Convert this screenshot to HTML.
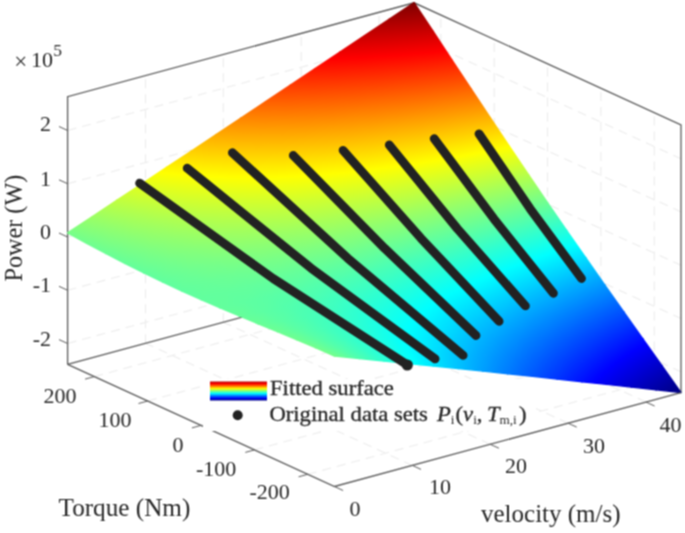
<!DOCTYPE html>
<html><head><meta charset="utf-8"><style>
html,body{margin:0;padding:0;background:#fff;overflow:hidden}
svg{display:block}

.t{font-family:"Liberation Serif",serif;fill:#262626}
</style></head><body><domain style="display:none">Chart</domain><div>
<svg width="685" height="533" viewBox="0 0 685 533">
<defs><filter id="bl" color-interpolation-filters="sRGB" x="0" y="0" width="685" height="533" filterUnits="userSpaceOnUse"><feConvolveMatrix order="3" kernelMatrix="1 2 1 2 4 2 1 2 1" divisor="16" edgeMode="duplicate"/></filter><linearGradient id="j" gradientUnits="userSpaceOnUse" x1="0" y1="0" x2="1" y2="0"><stop offset="0" stop-color="#000080"/><stop offset=".125" stop-color="#0000ff"/><stop offset=".375" stop-color="#00ffff"/><stop offset=".625" stop-color="#ffff00"/><stop offset=".875" stop-color="#ff0000"/><stop offset="1" stop-color="#800000"/></linearGradient>
<linearGradient id="g1" href="#j" x1="409.13" y1="228.40" x2="256.01" y2="490.24"/>
<linearGradient id="g2" href="#j" x1="391.28" y1="223.40" x2="274.79" y2="495.50"/>
<linearGradient id="g3" href="#j" x1="403.21" y1="188.55" x2="222.78" y2="515.41"/>
<linearGradient id="g4" href="#j" x1="377.89" y1="181.75" x2="249.50" y2="522.59"/>
<linearGradient id="g5" href="#j" x1="408.01" y1="131.93" x2="177.41" y2="560.61"/>
<linearGradient id="g6" href="#j" x1="368.73" y1="121.08" x2="219.27" y2="572.17"/>
<linearGradient id="g7" href="#j" x1="435.08" y1="44.02" x2="107.07" y2="641.87"/>
<linearGradient id="g8" href="#j" x1="365.75" y1="23.19" x2="181.87" y2="664.34"/>
<linearGradient id="g9" href="#j" x1="522.98" y1="-111.38" x2="-31.32" y2="799.70"/>
<linearGradient id="g10" href="#j" x1="371.89" y1="-164.14" x2="133.94" y2="857.41"/>
<linearGradient id="g11" href="#j" x1="876.02" y1="-434.24" x2="-466.32" y2="1146.90"/>
<linearGradient id="g12" href="#j" x1="368.80" y1="-672.24" x2="95.58" y2="1410.55"/>
<linearGradient id="g13" href="#j" x1="2960.62" y1="503.36" x2="-2847.74" y2="89.03"/>
<linearGradient id="g14" href="#j" x1="-2897.72" y1="-3599.17" x2="3710.37" y2="4681.61"/>
<linearGradient id="g15" href="#j" x1="428.15" y1="1641.45" x2="-54.95" y2="-1212.98"/>
<linearGradient id="g16" href="#j" x1="-551.75" y1="1614.62" x2="1049.65" y2="-1182.74"/>
<linearGradient id="g17" href="#j" x1="139.25" y1="1043.13" x2="230.29" y2="-558.88"/>
<linearGradient id="g18" href="#j" x1="-110.85" y1="1005.68" x2="512.93" y2="-516.55"/>
<linearGradient id="g19" href="#j" x1="92.73" y1="817.98" x2="242.06" y2="-321.89"/>
<linearGradient id="g20" href="#j" x1="-22.03" y1="794.29" x2="371.44" y2="-295.18"/>
<linearGradient id="g21" href="#j" x1="71.46" y1="703.21" x2="224.86" y2="-208.44"/>
<linearGradient id="g22" href="#j" x1="3.78" y1="686.65" x2="300.58" y2="-189.91"/>
<linearGradient id="g23" href="#j" x1="53.73" y1="633.04" x2="203.29" y2="-144.95"/>
<linearGradient id="g24" href="#j" x1="7.90" y1="620.34" x2="253.91" y2="-130.92"/>
<linearGradient id="g25" href="#j" x1="35.83" y1="584.93" x2="181.59" y2="-106.26"/>
<linearGradient id="g26" href="#j" x1="1.95" y1="574.50" x2="218.36" y2="-94.93"/>
<linearGradient id="g27" href="#j" x1="16.96" y1="549.26" x2="160.69" y2="-81.61"/>
<linearGradient id="g28" href="#j" x1="-9.64" y1="540.20" x2="188.93" y2="-72.00"/>
<linearGradient id="g29" href="#j" x1="474.90" y1="217.65" x2="219.72" y2="528.38"/>
<linearGradient id="g30" href="#j" x1="454.57" y1="202.16" x2="244.24" y2="547.07"/>
<linearGradient id="g31" href="#j" x1="486.11" y1="170.99" x2="166.89" y2="559.76"/>
<linearGradient id="g32" href="#j" x1="455.94" y1="146.97" x2="202.71" y2="588.29"/>
<linearGradient id="g33" href="#j" x1="524.44" y1="107.21" x2="82.18" y2="612.04"/>
<linearGradient id="g34" href="#j" x1="476.23" y1="62.91" x2="138.83" y2="664.09"/>
<linearGradient id="g35" href="#j" x1="627.33" y1="20.04" x2="-77.34" y2="691.69"/>
<linearGradient id="g36" href="#j" x1="544.50" y1="-83.77" x2="19.26" y2="812.78"/>
<linearGradient id="g37" href="#j" x1="913.79" y1="-50.80" x2="-447.88" y2="751.56"/>
<linearGradient id="g38" href="#j" x1="802.13" y1="-400.66" x2="-318.50" y2="1156.93"/>
<linearGradient id="g39" href="#j" x1="1474.51" y1="410.58" x2="-1128.04" y2="197.94"/>
<linearGradient id="g40" href="#j" x1="2906.57" y1="-592.77" x2="-2774.67" y2="1351.62"/>
<linearGradient id="g41" href="#j" x1="887.70" y1="1197.58" x2="-486.92" y2="-716.89"/>
<linearGradient id="g42" href="#j" x1="486.73" y1="1978.35" x2="-30.46" y2="-1605.68"/>
<linearGradient id="g43" href="#j" x1="385.81" y1="1017.69" x2="46.11" y2="-521.56"/>
<linearGradient id="g44" href="#j" x1="142.03" y1="1126.30" x2="319.87" y2="-643.53"/>
<linearGradient id="g45" href="#j" x1="235.27" y1="835.37" x2="175.27" y2="-326.83"/>
<linearGradient id="g46" href="#j" x1="111.04" y1="855.92" x2="312.29" y2="-349.49"/>
<linearGradient id="g47" href="#j" x1="173.18" y1="724.30" x2="203.30" y2="-214.61"/>
<linearGradient id="g48" href="#j" x1="98.38" y1="726.60" x2="283.94" y2="-217.08"/>
<linearGradient id="g49" href="#j" x1="136.39" y1="652.79" x2="202.38" y2="-147.91"/>
<linearGradient id="g50" href="#j" x1="85.53" y1="650.04" x2="255.70" y2="-145.03"/>
<linearGradient id="g51" href="#j" x1="108.29" y1="603.02" x2="191.39" y2="-106.14"/>
<linearGradient id="g52" href="#j" x1="70.67" y1="598.64" x2="229.55" y2="-101.70"/>
<linearGradient id="g53" href="#j" x1="83.45" y1="566.04" x2="176.43" y2="-79.07"/>
<linearGradient id="g54" href="#j" x1="53.89" y1="561.08" x2="205.31" y2="-74.22"/>
<linearGradient id="g55" href="#j" x1="59.73" y1="537.09" x2="159.86" y2="-61.27"/>
<linearGradient id="g56" href="#j" x1="35.45" y1="531.90" x2="182.62" y2="-56.40"/>
<linearGradient id="g57" href="#j" x1="551.31" y1="225.63" x2="151.90" y2="548.68"/>
<linearGradient id="g58" href="#j" x1="536.21" y1="195.10" x2="172.85" y2="591.02"/>
<linearGradient id="g59" href="#j" x1="588.20" y1="184.38" x2="66.19" y2="571.32"/>
<linearGradient id="g60" href="#j" x1="568.76" y1="133.38" x2="92.21" y2="639.57"/>
<linearGradient id="g61" href="#j" x1="672.45" y1="146.43" x2="-77.88" y2="589.18"/>
<linearGradient id="g62" href="#j" x1="657.24" y1="48.58" x2="-58.14" y2="716.15"/>
<linearGradient id="g63" href="#j" x1="844.14" y1="161.55" x2="-325.96" y2="539.31"/>
<linearGradient id="g64" href="#j" x1="903.75" y1="-39.90" x2="-401.18" y2="793.51"/>
<linearGradient id="g65" href="#j" x1="1056.30" y1="403.52" x2="-611.43" y2="213.10"/>
<linearGradient id="g66" href="#j" x1="1501.51" y1="268.30" x2="-1158.12" y2="379.14"/>
<linearGradient id="g67" href="#j" x1="909.63" y1="816.40" x2="-452.59" y2="-300.10"/>
<linearGradient id="g68" href="#j" x1="1060.73" y1="1253.38" x2="-632.98" y2="-821.75"/>
<linearGradient id="g69" href="#j" x1="566.95" y1="891.93" x2="-74.62" y2="-392.42"/>
<linearGradient id="g70" href="#j" x1="439.35" y1="1083.25" x2="73.11" y2="-613.92"/>
<linearGradient id="g71" href="#j" x1="374.69" y1="807.17" x2="111.65" y2="-297.74"/>
<linearGradient id="g72" href="#j" x1="270.00" y1="871.22" x2="228.79" y2="-369.40"/>
<linearGradient id="g73" href="#j" x1="279.21" y1="723.10" x2="180.11" y2="-208.65"/>
<linearGradient id="g74" href="#j" x1="207.09" y1="746.61" x2="257.75" y2="-233.96"/>
<linearGradient id="g75" href="#j" x1="223.48" y1="659.76" x2="201.02" y2="-146.48"/>
<linearGradient id="g76" href="#j" x1="171.83" y1="668.65" x2="254.27" y2="-155.64"/>
<linearGradient id="g77" href="#j" x1="184.45" y1="612.67" x2="202.10" y2="-104.62"/>
<linearGradient id="g78" href="#j" x1="145.32" y1="615.44" x2="240.54" y2="-107.34"/>
<linearGradient id="g79" href="#j" x1="152.98" y1="576.61" x2="194.15" y2="-76.35"/>
<linearGradient id="g80" href="#j" x1="121.84" y1="576.48" x2="223.16" y2="-76.23"/>
<linearGradient id="g81" href="#j" x1="125.07" y1="548.03" x2="181.75" y2="-57.19"/>
<linearGradient id="g82" href="#j" x1="99.27" y1="546.35" x2="204.43" y2="-55.71"/>
<linearGradient id="g83" href="#j" x1="98.80" y1="524.61" x2="167.06" y2="-44.33"/>
<linearGradient id="g84" href="#j" x1="76.73" y1="521.99" x2="185.31" y2="-42.17"/>
<linearGradient id="g85" href="#j" x1="625.06" y1="263.12" x2="62.49" y2="524.07"/>
<linearGradient id="g86" href="#j" x1="628.95" y1="221.70" x2="56.26" y2="590.37"/>
<linearGradient id="g87" href="#j" x1="681.26" y1="248.95" x2="-50.99" y2="505.41"/>
<linearGradient id="g88" href="#j" x1="701.75" y1="184.14" x2="-81.95" y2="603.34"/>
<linearGradient id="g89" href="#j" x1="774.37" y1="277.18" x2="-208.70" y2="427.70"/>
<linearGradient id="g90" href="#j" x1="851.63" y1="187.64" x2="-319.56" y2="556.18"/>
<linearGradient id="g91" href="#j" x1="868.25" y1="407.19" x2="-354.40" y2="217.65"/>
<linearGradient id="g92" href="#j" x1="1062.56" y1="379.47" x2="-619.89" y2="255.52"/>
<linearGradient id="g93" href="#j" x1="831.49" y1="623.03" x2="-317.25" y2="-85.59"/>
<linearGradient id="g94" href="#j" x1="981.43" y1="793.50" x2="-512.48" y2="-307.55"/>
<linearGradient id="g95" href="#j" x1="652.63" y1="745.70" x2="-107.10" y2="-245.26"/>
<linearGradient id="g96" href="#j" x1="632.06" y1="911.60" x2="-81.59" y2="-450.94"/>
<linearGradient id="g97" href="#j" x1="486.67" y1="743.49" x2="67.90" y2="-241.59"/>
<linearGradient id="g98" href="#j" x1="421.48" y1="829.14" x2="144.67" y2="-342.45"/>
<linearGradient id="g99" href="#j" x1="379.04" y1="699.07" x2="159.66" y2="-189.81"/>
<linearGradient id="g100" href="#j" x1="319.74" y1="739.87" x2="225.76" y2="-235.29"/>
<linearGradient id="g101" href="#j" x1="310.08" y1="652.48" x2="199.65" y2="-139.96"/>
<linearGradient id="g102" href="#j" x1="262.60" y1="672.54" x2="249.55" y2="-161.04"/>
<linearGradient id="g103" href="#j" x1="261.65" y1="612.79" x2="213.04" y2="-101.54"/>
<linearGradient id="g104" href="#j" x1="223.69" y1="622.91" x2="250.47" y2="-111.53"/>
<linearGradient id="g105" href="#j" x1="223.88" y1="580.29" x2="212.79" y2="-73.66"/>
<linearGradient id="g106" href="#j" x1="192.77" y1="585.26" x2="241.43" y2="-78.24"/>
<linearGradient id="g107" href="#j" x1="191.79" y1="553.57" x2="205.25" y2="-53.85"/>
<linearGradient id="g108" href="#j" x1="165.55" y1="555.66" x2="227.68" y2="-55.63"/>
<linearGradient id="g109" href="#j" x1="162.72" y1="531.27" x2="193.63" y2="-40.04"/>
<linearGradient id="g110" href="#j" x1="140.01" y1="531.58" x2="211.59" y2="-40.28"/>
<linearGradient id="g111" href="#j" x1="135.20" y1="512.28" x2="179.64" y2="-30.66"/>
<linearGradient id="g112" href="#j" x1="115.08" y1="511.40" x2="194.29" y2="-30.02"/>
<linearGradient id="g113" href="#j" x1="672.80" y1="325.56" x2="-10.90" y2="441.05"/>
<linearGradient id="g114" href="#j" x1="701.18" y1="292.33" x2="-63.60" y2="502.75"/>
<linearGradient id="g115" href="#j" x1="721.36" y1="345.02" x2="-111.31" y2="364.72"/>
<linearGradient id="g116" href="#j" x1="779.35" y1="310.56" x2="-210.64" y2="423.74"/>
<linearGradient id="g117" href="#j" x1="766.98" y1="413.83" x2="-195.53" y2="219.70"/>
<linearGradient id="g118" href="#j" x1="865.81" y1="412.34" x2="-352.68" y2="222.07"/>
<linearGradient id="g119" href="#j" x1="760.43" y1="529.14" x2="-192.69" y2="24.16"/>
<linearGradient id="g120" href="#j" x1="854.01" y1="603.91" x2="-331.30" y2="-86.60"/>
<linearGradient id="g121" href="#j" x1="675.76" y1="629.01" x2="-82.83" y2="-125.06"/>
<linearGradient id="g122" href="#j" x1="698.66" y1="737.16" x2="-114.47" y2="-274.48"/>
<linearGradient id="g123" href="#j" x1="561.03" y1="666.14" x2="51.17" y2="-173.68"/>
<linearGradient id="g124" href="#j" x1="533.74" y1="747.40" x2="86.32" y2="-278.35"/>
<linearGradient id="g125" href="#j" x1="463.28" y1="657.53" x2="146.40" y2="-160.07"/>
<linearGradient id="g126" href="#j" x1="422.67" y1="706.57" x2="195.05" y2="-218.81"/>
<linearGradient id="g127" href="#j" x1="390.77" y1="631.71" x2="199.28" y2="-127.99"/>
<linearGradient id="g128" href="#j" x1="351.75" y1="660.06" x2="242.62" y2="-159.47"/>
<linearGradient id="g129" href="#j" x1="336.74" y1="603.14" x2="223.79" y2="-96.53"/>
<linearGradient id="g130" href="#j" x1="302.63" y1="619.70" x2="258.78" y2="-113.51"/>
<linearGradient id="g131" href="#j" x1="294.21" y1="576.70" x2="231.47" y2="-70.86"/>
<linearGradient id="g132" href="#j" x1="264.85" y1="586.51" x2="259.16" y2="-80.11"/>
<linearGradient id="g133" href="#j" x1="258.54" y1="553.47" x2="229.33" y2="-51.32"/>
<linearGradient id="g134" href="#j" x1="233.04" y1="559.25" x2="251.33" y2="-56.31"/>
<linearGradient id="g135" href="#j" x1="226.92" y1="533.30" x2="221.34" y2="-36.98"/>
<linearGradient id="g136" href="#j" x1="204.41" y1="536.54" x2="239.00" y2="-39.52"/>
<linearGradient id="g137" href="#j" x1="197.65" y1="515.73" x2="209.76" y2="-26.79"/>
<linearGradient id="g138" href="#j" x1="177.44" y1="517.27" x2="224.11" y2="-27.88"/>
<linearGradient id="g139" href="#j" x1="169.63" y1="500.28" x2="195.92" y2="-19.86"/>
<linearGradient id="g140" href="#j" x1="151.20" y1="500.60" x2="207.70" y2="-20.06"/>
<linearGradient id="g141" href="#j" x1="683.73" y1="387.95" x2="-31.12" y2="326.37"/>
<linearGradient id="g142" href="#j" x1="720.78" y1="377.65" x2="-111.52" y2="348.73"/>
<linearGradient id="g143" href="#j" x1="707.54" y1="421.46" x2="-84.23" y2="220.99"/>
<linearGradient id="g144" href="#j" x1="760.86" y1="427.17" x2="-188.23" y2="209.87"/>
<linearGradient id="g145" href="#j" x1="709.69" y1="482.27" x2="-91.55" y2="85.22"/>
<linearGradient id="g146" href="#j" x1="764.63" y1="520.18" x2="-188.64" y2="18.24"/>
<linearGradient id="g147" href="#j" x1="671.98" y1="549.48" x2="-34.70" y2="-38.21"/>
<linearGradient id="g148" href="#j" x1="700.94" y1="613.34" x2="-81.29" y2="-140.93"/>
<linearGradient id="g149" href="#j" x1="602.79" y1="593.85" x2="58.04" y2="-107.49"/>
<linearGradient id="g150" href="#j" x1="599.04" y1="657.00" x2="63.55" y2="-200.14"/>
<linearGradient id="g151" href="#j" x1="527.24" y1="607.46" x2="143.02" y2="-123.46"/>
<linearGradient id="g152" href="#j" x1="504.84" y1="655.03" x2="173.00" y2="-187.12"/>
<linearGradient id="g153" href="#j" x1="460.88" y1="600.63" x2="201.23" y2="-110.82"/>
<linearGradient id="g154" href="#j" x1="432.62" y1="632.71" x2="235.68" y2="-149.93"/>
<linearGradient id="g155" href="#j" x1="406.52" y1="584.65" x2="234.34" y2="-89.12"/>
<linearGradient id="g156" href="#j" x1="378.39" y1="605.65" x2="265.48" y2="-112.37"/>
<linearGradient id="g157" href="#j" x1="361.85" y1="566.04" x2="249.55" y2="-67.59"/>
<linearGradient id="g158" href="#j" x1="335.79" y1="579.80" x2="275.64" y2="-81.38"/>
<linearGradient id="g159" href="#j" x1="323.90" y1="547.70" x2="253.10" y2="-49.40"/>
<linearGradient id="g160" href="#j" x1="300.25" y1="556.78" x2="274.43" y2="-57.59"/>
<linearGradient id="g161" href="#j" x1="290.39" y1="530.67" x2="249.21" y2="-35.11"/>
<linearGradient id="g162" href="#j" x1="268.91" y1="536.65" x2="266.55" y2="-39.94"/>
<linearGradient id="g163" href="#j" x1="259.68" y1="515.21" x2="240.54" y2="-24.39"/>
<linearGradient id="g164" href="#j" x1="240.03" y1="519.07" x2="254.67" y2="-27.16"/>
<linearGradient id="g165" href="#j" x1="230.68" y1="501.27" x2="228.72" y2="-16.70"/>
<linearGradient id="g166" href="#j" x1="212.50" y1="503.59" x2="240.28" y2="-18.17"/>
<linearGradient id="g167" href="#j" x1="202.61" y1="488.68" x2="214.78" y2="-11.48"/>
<linearGradient id="g168" href="#j" x1="185.62" y1="489.83" x2="224.28" y2="-12.13"/>
<linearGradient id="g169" href="#j" x1="671.36" y1="429.30" x2="0.44" y2="222.02"/>
<linearGradient id="g170" href="#j" x1="700.10" y1="435.99" x2="-73.19" y2="204.87"/>
<linearGradient id="g171" href="#j" x1="675.86" y1="458.80" x2="-9.57" y2="122.33"/>
<linearGradient id="g172" href="#j" x1="707.30" y1="479.97" x2="-79.83" y2="75.03"/>
<linearGradient id="g173" href="#j" x1="660.69" y1="499.03" x2="19.59" y2="22.77"/>
<linearGradient id="g174" href="#j" x1="683.67" y1="535.85" x2="-25.70" y2="-49.78"/>
<linearGradient id="g175" href="#j" x1="623.01" y1="535.70" x2="80.74" y2="-49.89"/>
<linearGradient id="g176" href="#j" x1="629.20" y1="579.26" x2="69.91" y2="-126.11"/>
<linearGradient id="g177" href="#j" x1="571.56" y1="557.67" x2="149.73" y2="-84.46"/>
<linearGradient id="g178" href="#j" x1="562.54" y1="597.35" x2="163.79" y2="-146.33"/>
<linearGradient id="g179" href="#j" x1="517.80" y1="563.93" x2="206.64" y2="-89.43"/>
<linearGradient id="g180" href="#j" x1="500.07" y1="595.07" x2="231.30" y2="-132.76"/>
<linearGradient id="g181" href="#j" x1="468.30" y1="559.38" x2="244.97" y2="-78.98"/>
<linearGradient id="g182" href="#j" x1="447.20" y1="582.20" x2="271.14" y2="-107.28"/>
<linearGradient id="g183" href="#j" x1="424.70" y1="549.14" x2="266.64" y2="-63.33"/>
<linearGradient id="g184" href="#j" x1="403.13" y1="565.46" x2="290.44" y2="-81.33"/>
<linearGradient id="g185" href="#j" x1="386.35" y1="536.58" x2="275.87" y2="-47.71"/>
<linearGradient id="g186" href="#j" x1="365.55" y1="548.21" x2="296.21" y2="-59.07"/>
<linearGradient id="g187" href="#j" x1="352.00" y1="523.52" x2="276.44" y2="-34.20"/>
<linearGradient id="g188" href="#j" x1="332.35" y1="531.82" x2="293.38" y2="-41.35"/>
<linearGradient id="g189" href="#j" x1="320.47" y1="510.83" x2="271.11" y2="-23.36"/>
<linearGradient id="g190" href="#j" x1="301.99" y1="516.74" x2="285.08" y2="-27.83"/>
<linearGradient id="g191" href="#j" x1="290.82" y1="498.86" x2="261.76" y2="-15.11"/>
<linearGradient id="g192" href="#j" x1="273.40" y1="503.02" x2="273.22" y2="-17.85"/>
<linearGradient id="g193" href="#j" x1="262.35" y1="487.75" x2="249.61" y2="-9.16"/>
<linearGradient id="g194" href="#j" x1="245.83" y1="490.56" x2="259.00" y2="-10.76"/>
<linearGradient id="g195" href="#j" x1="234.48" y1="477.48" x2="235.50" y2="-5.15"/>
<linearGradient id="g196" href="#j" x1="218.71" y1="479.22" x2="243.17" y2="-6.00"/>
<linearGradient id="g197" href="#j" x1="654.33" y1="447.76" x2="58.42" y2="146.71"/>
<linearGradient id="g198" href="#j" x1="671.46" y1="459.93" x2="5.91" y2="109.39"/>
<linearGradient id="g199" href="#j" x1="649.89" y1="468.44" x2="72.80" y2="66.10"/>
<linearGradient id="g200" href="#j" x1="665.18" y1="489.42" x2="33.35" y2="11.98"/>
<linearGradient id="g201" href="#j" x1="631.60" y1="493.17" x2="112.11" y2="-2.42"/>
<linearGradient id="g202" href="#j" x1="639.72" y1="520.99" x2="94.19" y2="-63.83"/>
<linearGradient id="g203" href="#j" x1="600.28" y1="514.12" x2="164.91" y2="-46.49"/>
<linearGradient id="g204" href="#j" x1="598.90" y1="543.66" x2="167.53" y2="-102.86"/>
<linearGradient id="g205" href="#j" x1="561.30" y1="526.54" x2="216.12" y2="-65.24"/>
<linearGradient id="g206" href="#j" x1="551.99" y1="553.28" x2="231.57" y2="-109.61"/>
<linearGradient id="g207" href="#j" x1="520.40" y1="530.24" x2="256.19" y2="-66.07"/>
<linearGradient id="g208" href="#j" x1="506.19" y1="552.21" x2="276.75" y2="-97.86"/>
<linearGradient id="g209" href="#j" x1="481.03" y1="527.50" x2="282.69" y2="-57.55"/>
<linearGradient id="g210" href="#j" x1="464.50" y1="544.67" x2="303.56" y2="-79.23"/>
<linearGradient id="g211" href="#j" x1="444.45" y1="520.85" x2="297.17" y2="-45.71"/>
<linearGradient id="g212" href="#j" x1="427.18" y1="533.99" x2="316.16" y2="-60.15"/>
<linearGradient id="g213" href="#j" x1="410.65" y1="512.21" x2="302.35" y2="-33.84"/>
<linearGradient id="g214" href="#j" x1="393.46" y1="522.19" x2="318.75" y2="-43.37"/>
<linearGradient id="g215" href="#j" x1="379.16" y1="502.77" x2="300.74" y2="-23.42"/>
<linearGradient id="g216" href="#j" x1="362.41" y1="510.34" x2="314.54" y2="-29.66"/>
<linearGradient id="g217" href="#j" x1="349.41" y1="493.20" x2="294.27" y2="-14.93"/>
<linearGradient id="g218" href="#j" x1="333.21" y1="498.93" x2="305.72" y2="-18.98"/>
<linearGradient id="g219" href="#j" x1="320.85" y1="483.89" x2="284.33" y2="-8.41"/>
<linearGradient id="g220" href="#j" x1="305.20" y1="488.17" x2="293.74" y2="-10.98"/>
<linearGradient id="g221" href="#j" x1="293.01" y1="475.01" x2="271.88" y2="-3.68"/>
<linearGradient id="g222" href="#j" x1="277.87" y1="478.14" x2="279.54" y2="-5.26"/>
<linearGradient id="g223" href="#j" x1="265.51" y1="466.65" x2="257.56" y2="-0.53"/>
<linearGradient id="g224" href="#j" x1="250.79" y1="468.81" x2="263.75" y2="-1.44"/>
<linearGradient id="g225" href="#j" x1="642.22" y1="450.87" x2="122.52" y2="97.79"/>
<linearGradient id="g226" href="#j" x1="651.07" y1="462.32" x2="89.45" y2="55.02"/>
<linearGradient id="g227" href="#j" x1="635.10" y1="464.17" x2="147.31" y2="35.93"/>
<linearGradient id="g228" href="#j" x1="641.69" y1="480.75" x2="127.48" y2="-13.96"/>
<linearGradient id="g229" href="#j" x1="618.35" y1="479.47" x2="186.22" y2="-11.53"/>
<linearGradient id="g230" href="#j" x1="620.17" y1="499.46" x2="181.69" y2="-61.21"/>
<linearGradient id="g231" href="#j" x1="593.08" y1="492.37" x2="229.66" y2="-39.74"/>
<linearGradient id="g232" href="#j" x1="589.34" y1="513.00" x2="237.45" y2="-82.79"/>
<linearGradient id="g233" href="#j" x1="562.45" y1="500.32" x2="268.53" y2="-50.65"/>
<linearGradient id="g234" href="#j" x1="554.02" y1="519.36" x2="283.42" y2="-84.30"/>
<linearGradient id="g235" href="#j" x1="529.69" y1="503.07" x2="297.89" y2="-49.83"/>
<linearGradient id="g236" href="#j" x1="518.09" y1="519.41" x2="315.36" y2="-74.44"/>
<linearGradient id="g237" href="#j" x1="496.96" y1="501.64" x2="316.80" y2="-42.82"/>
<linearGradient id="g238" href="#j" x1="483.54" y1="515.10" x2="334.03" y2="-60.13"/>
<linearGradient id="g239" href="#j" x1="465.26" y1="497.37" x2="326.48" y2="-33.52"/>
<linearGradient id="g240" href="#j" x1="450.99" y1="508.24" x2="342.13" y2="-45.43"/>
<linearGradient id="g241" href="#j" x1="434.89" y1="491.39" x2="328.83" y2="-24.17"/>
<linearGradient id="g242" href="#j" x1="420.32" y1="500.09" x2="342.40" y2="-32.28"/>
<linearGradient id="g243" href="#j" x1="405.75" y1="484.52" x2="325.61" y2="-15.87"/>
<linearGradient id="g244" href="#j" x1="391.18" y1="491.44" x2="337.08" y2="-21.33"/>
<linearGradient id="g245" href="#j" x1="377.57" y1="477.29" x2="318.26" y2="-9.04"/>
<linearGradient id="g246" href="#j" x1="363.16" y1="482.77" x2="327.78" y2="-12.66"/>
<linearGradient id="g247" href="#j" x1="350.06" y1="470.03" x2="307.85" y2="-3.74"/>
<linearGradient id="g248" href="#j" x1="335.85" y1="474.34" x2="315.63" y2="-6.10"/>
<linearGradient id="g249" href="#j" x1="322.93" y1="462.94" x2="295.12" y2="0.11"/>
<linearGradient id="g250" href="#j" x1="308.92" y1="466.27" x2="301.40" y2="-1.38"/>
<linearGradient id="g251" href="#j" x1="295.88" y1="456.15" x2="280.63" y2="2.66"/>
<linearGradient id="g252" href="#j" x1="282.05" y1="458.63" x2="285.60" y2="1.77"/>
<linearGradient id="g253" href="#j" x1="637.16" y1="445.71" x2="183.55" y2="66.91"/>
<linearGradient id="g254" href="#j" x1="641.27" y1="454.57" x2="164.36" y2="25.47"/>
<linearGradient id="g255" href="#j" x1="630.03" y1="453.97" x2="211.46" y2="19.68"/>
<linearGradient id="g256" href="#j" x1="632.39" y1="466.15" x2="203.06" y2="-23.63"/>
<linearGradient id="g257" href="#j" x1="615.78" y1="463.76" x2="246.76" y2="-14.18"/>
<linearGradient id="g258" href="#j" x1="615.04" y1="478.09" x2="248.83" y2="-54.54"/>
<linearGradient id="g259" href="#j" x1="595.22" y1="472.33" x2="282.36" y2="-33.24"/>
<linearGradient id="g260" href="#j" x1="590.97" y1="487.21" x2="292.07" y2="-67.28"/>
<linearGradient id="g261" href="#j" x1="570.30" y1="477.99" x2="312.62" y2="-39.97"/>
<linearGradient id="g262" href="#j" x1="562.96" y1="492.12" x2="326.46" y2="-66.61"/>
<linearGradient id="g263" href="#j" x1="543.04" y1="480.37" x2="334.80" y2="-38.51"/>
<linearGradient id="g264" href="#j" x1="533.39" y1="493.00" x2="349.92" y2="-58.31"/>
<linearGradient id="g265" href="#j" x1="514.93" y1="479.88" x2="348.58" y2="-32.65"/>
<linearGradient id="g266" href="#j" x1="503.76" y1="490.77" x2="363.20" y2="-46.91"/>
<linearGradient id="g267" href="#j" x1="486.84" y1="477.24" x2="354.93" y2="-25.13"/>
<linearGradient id="g268" href="#j" x1="474.75" y1="486.44" x2="368.14" y2="-35.18"/>
<linearGradient id="g269" href="#j" x1="459.16" y1="473.14" x2="355.23" y2="-17.55"/>
<linearGradient id="g270" href="#j" x1="446.54" y1="480.82" x2="366.70" y2="-24.53"/>
<linearGradient id="g271" href="#j" x1="431.96" y1="468.16" x2="350.83" y2="-10.76"/>
<linearGradient id="g272" href="#j" x1="419.09" y1="474.52" x2="360.52" y2="-15.55"/>
<linearGradient id="g273" href="#j" x1="405.19" y1="462.70" x2="342.81" y2="-5.11"/>
<linearGradient id="g274" href="#j" x1="392.20" y1="467.94" x2="350.82" y2="-8.35"/>
<linearGradient id="g275" href="#j" x1="378.69" y1="457.06" x2="332.02" y2="-0.70"/>
<linearGradient id="g276" href="#j" x1="365.65" y1="461.34" x2="338.52" y2="-2.84"/>
<linearGradient id="g277" href="#j" x1="352.27" y1="451.43" x2="319.09" y2="2.52"/>
<linearGradient id="g278" href="#j" x1="339.22" y1="454.88" x2="324.24" y2="1.16"/>
<linearGradient id="g279" href="#j" x1="325.72" y1="445.96" x2="304.46" y2="4.65"/>
<linearGradient id="g280" href="#j" x1="312.67" y1="448.66" x2="308.43" y2="3.83"/>
<linearGradient id="g281" href="#j" x1="638.38" y1="436.62" x2="238.90" y2="47.12"/>
<linearGradient id="g282" href="#j" x1="640.03" y1="442.84" x2="228.85" y2="9.28"/>
<linearGradient id="g283" href="#j" x1="632.13" y1="441.65" x2="266.67" y2="10.55"/>
<linearGradient id="g284" href="#j" x1="632.56" y1="450.32" x2="264.87" y2="-26.57"/>
<linearGradient id="g285" href="#j" x1="620.24" y1="448.17" x2="297.84" y2="-14.48"/>
<linearGradient id="g286" href="#j" x1="618.57" y1="458.52" x2="303.23" y2="-47.82"/>
<linearGradient id="g287" href="#j" x1="603.23" y1="454.25" x2="327.31" y2="-28.00"/>
<linearGradient id="g288" href="#j" x1="599.14" y1="465.27" x2="337.60" y2="-55.77"/>
<linearGradient id="g289" href="#j" x1="582.35" y1="458.63" x2="351.44" y2="-32.37"/>
<linearGradient id="g290" href="#j" x1="576.02" y1="469.46" x2="364.19" y2="-54.17"/>
<linearGradient id="g291" href="#j" x1="559.00" y1="460.86" x2="368.61" y2="-30.69"/>
<linearGradient id="g292" href="#j" x1="550.85" y1="470.92" x2="381.92" y2="-47.11"/>
<linearGradient id="g293" href="#j" x1="534.30" y1="461.04" x2="378.78" y2="-25.73"/>
<linearGradient id="g294" href="#j" x1="524.80" y1="470.07" x2="391.43" y2="-37.76"/>
<linearGradient id="g295" href="#j" x1="508.98" y1="459.55" x2="382.73" y2="-19.49"/>
<linearGradient id="g296" href="#j" x1="498.53" y1="467.47" x2="394.11" y2="-28.12"/>
<linearGradient id="g297" href="#j" x1="483.47" y1="456.82" x2="381.55" y2="-13.20"/>
<linearGradient id="g298" href="#j" x1="472.37" y1="463.68" x2="391.40" y2="-19.29"/>
<linearGradient id="g299" href="#j" x1="457.93" y1="453.25" x2="376.26" y2="-7.51"/>
<linearGradient id="g300" href="#j" x1="446.40" y1="459.13" x2="384.55" y2="-11.74"/>
<linearGradient id="g301" href="#j" x1="432.42" y1="449.17" x2="367.74" y2="-2.74"/>
<linearGradient id="g302" href="#j" x1="420.58" y1="454.18" x2="374.55" y2="-5.62"/>
<linearGradient id="g303" href="#j" x1="406.86" y1="444.82" x2="356.68" y2="1.01"/>
<linearGradient id="g304" href="#j" x1="394.81" y1="449.04" x2="362.12" y2="-0.90"/>
<linearGradient id="g305" href="#j" x1="381.16" y1="440.40" x2="343.60" y2="3.77"/>
<linearGradient id="g306" href="#j" x1="368.93" y1="443.91" x2="347.82" y2="2.56"/>
<linearGradient id="g307" href="#j" x1="355.15" y1="436.03" x2="328.88" y2="5.62"/>
<linearGradient id="g308" href="#j" x1="342.77" y1="438.89" x2="332.00" y2="4.90"/>
<linearGradient id="g309" href="#j" x1="644.47" y1="425.90" x2="288.60" y2="33.89"/>
<linearGradient id="g310" href="#j" x1="644.96" y1="429.91" x2="284.45" y2="0.05"/>
<linearGradient id="g311" href="#j" x1="639.32" y1="428.87" x2="314.95" y2="4.97"/>
<linearGradient id="g312" href="#j" x1="638.93" y1="434.91" x2="317.00" y2="-26.97"/>
<linearGradient id="g313" href="#j" x1="629.41" y1="433.36" x2="342.35" y2="-14.17"/>
<linearGradient id="g314" href="#j" x1="627.51" y1="440.91" x2="349.41" y2="-42.25"/>
<linearGradient id="g315" href="#j" x1="615.07" y1="437.93" x2="367.09" y2="-24.19"/>
<linearGradient id="g316" href="#j" x1="611.38" y1="446.27" x2="377.38" y2="-47.42"/>
<linearGradient id="g317" href="#j" x1="597.19" y1="441.53" x2="386.74" y2="-27.14"/>
<linearGradient id="g318" href="#j" x1="591.74" y1="450.03" x2="398.49" y2="-45.47"/>
<linearGradient id="g319" href="#j" x1="576.75" y1="443.69" x2="400.29" y2="-25.45"/>
<linearGradient id="g320" href="#j" x1="569.77" y1="451.89" x2="412.17" y2="-39.40"/>
<linearGradient id="g321" href="#j" x1="554.66" y1="444.35" x2="407.85" y2="-21.21"/>
<linearGradient id="g322" href="#j" x1="546.45" y1="451.98" x2="418.99" y2="-31.55"/>
<linearGradient id="g323" href="#j" x1="531.55" y1="443.69" x2="410.05" y2="-15.93"/>
<linearGradient id="g324" href="#j" x1="522.38" y1="450.61" x2="420.01" y2="-23.45"/>
<linearGradient id="g325" href="#j" x1="507.83" y1="441.97" x2="407.76" y2="-10.59"/>
<linearGradient id="g326" href="#j" x1="497.94" y1="448.16" x2="416.35" y2="-15.95"/>
<linearGradient id="g327" href="#j" x1="483.74" y1="439.49" x2="401.82" y2="-5.73"/>
<linearGradient id="g328" href="#j" x1="473.29" y1="444.95" x2="409.00" y2="-9.48"/>
<linearGradient id="g329" href="#j" x1="459.36" y1="436.49" x2="392.94" y2="-1.62"/>
<linearGradient id="g330" href="#j" x1="448.48" y1="441.27" x2="398.77" y2="-4.19"/>
<linearGradient id="g331" href="#j" x1="434.70" y1="433.19" x2="381.69" y2="1.64"/>
<linearGradient id="g332" href="#j" x1="423.47" y1="437.34" x2="386.27" y2="-0.05"/>
<linearGradient id="g333" href="#j" x1="409.70" y1="429.76" x2="368.52" y2="4.07"/>
<linearGradient id="g334" href="#j" x1="398.16" y1="433.31" x2="371.96" y2="3.01"/>
<linearGradient id="g335" href="#j" x1="384.24" y1="426.34" x2="353.74" y2="5.72"/>
<linearGradient id="g336" href="#j" x1="372.44" y1="429.32" x2="356.15" y2="5.11"/>
<linearGradient id="g337" href="#j" x1="654.19" y1="414.68" x2="333.46" y2="24.53"/>
<linearGradient id="g338" href="#j" x1="654.22" y1="416.98" x2="333.14" y2="-5.64"/>
<linearGradient id="g339" href="#j" x1="650.10" y1="416.31" x2="358.00" y2="1.13"/>
<linearGradient id="g340" href="#j" x1="649.45" y1="420.42" x2="362.34" y2="-26.62"/>
<linearGradient id="g341" href="#j" x1="641.81" y1="419.50" x2="382.19" y2="-13.98"/>
<linearGradient id="g342" href="#j" x1="640.00" y1="425.03" x2="390.08" y2="-38.06"/>
<linearGradient id="g343" href="#j" x1="629.54" y1="423.08" x2="403.29" y2="-21.69"/>
<linearGradient id="g344" href="#j" x1="626.31" y1="429.50" x2="413.31" y2="-41.56"/>
<linearGradient id="g345" href="#j" x1="613.94" y1="426.17" x2="419.59" y2="-23.78"/>
<linearGradient id="g346" href="#j" x1="609.24" y1="432.98" x2="430.45" y2="-39.51"/>
<linearGradient id="g347" href="#j" x1="595.76" y1="428.29" x2="430.47" y2="-22.16"/>
<linearGradient id="g348" href="#j" x1="589.72" y1="435.10" x2="441.19" y2="-34.24"/>
<linearGradient id="g349" href="#j" x1="575.75" y1="429.29" x2="436.09" y2="-18.49"/>
<linearGradient id="g350" href="#j" x1="568.55" y1="435.84" x2="446.03" y2="-27.53"/>
<linearGradient id="g351" href="#j" x1="554.45" y1="429.24" x2="436.99" y2="-13.96"/>
<linearGradient id="g352" href="#j" x1="546.29" y1="435.36" x2="445.82" y2="-20.59"/>
<linearGradient id="g353" href="#j" x1="532.26" y1="428.28" x2="433.89" y2="-9.35"/>
<linearGradient id="g354" href="#j" x1="523.33" y1="433.91" x2="441.45" y2="-14.11"/>
<linearGradient id="g355" href="#j" x1="509.44" y1="426.64" x2="427.47" y2="-5.13"/>
<linearGradient id="g356" href="#j" x1="499.87" y1="431.75" x2="433.74" y2="-8.47"/>
<linearGradient id="g357" href="#j" x1="486.09" y1="424.51" x2="418.33" y2="-1.53"/>
<linearGradient id="g358" href="#j" x1="476.00" y1="429.09" x2="423.36" y2="-3.81"/>
<linearGradient id="g359" href="#j" x1="462.27" y1="422.07" x2="406.96" y2="1.37"/>
<linearGradient id="g360" href="#j" x1="451.74" y1="426.13" x2="410.82" y2="-0.12"/>
<linearGradient id="g361" href="#j" x1="437.95" y1="419.48" x2="393.75" y2="3.55"/>
<linearGradient id="g362" href="#j" x1="427.02" y1="423.04" x2="396.53" y2="2.65"/>
<linearGradient id="g363" href="#j" x1="413.04" y1="416.86" x2="378.96" y2="5.07"/>
<linearGradient id="g364" href="#j" x1="401.76" y1="419.93" x2="380.77" y2="4.58"/>
<linearGradient id="g365" href="#j" x1="666.60" y1="403.50" x2="374.40" y2="17.43"/>
<linearGradient id="g366" href="#j" x1="666.52" y1="404.49" x2="376.60" y2="-9.54"/>
<linearGradient id="g367" href="#j" x1="663.45" y1="404.24" x2="397.13" y2="-1.92"/>
<linearGradient id="g368" href="#j" x1="662.82" y1="406.91" x2="402.84" y2="-26.31"/>
<linearGradient id="g369" href="#j" x1="656.48" y1="406.55" x2="418.66" y2="-14.19"/>
<linearGradient id="g370" href="#j" x1="654.90" y1="410.59" x2="426.91" y2="-35.17"/>
<linearGradient id="g371" href="#j" x1="645.86" y1="409.45" x2="436.91" y2="-20.34"/>
<linearGradient id="g372" href="#j" x1="643.07" y1="414.44" x2="446.58" y2="-37.63"/>
<linearGradient id="g373" href="#j" x1="632.06" y1="412.18" x2="450.67" y2="-21.88"/>
<linearGradient id="g374" href="#j" x1="627.99" y1="417.71" x2="460.76" y2="-35.63"/>
<linearGradient id="g375" href="#j" x1="615.70" y1="414.25" x2="459.54" y2="-20.38"/>
<linearGradient id="g376" href="#j" x1="610.41" y1="419.99" x2="469.32" y2="-31.00"/>
<linearGradient id="g377" href="#j" x1="597.38" y1="415.50" x2="463.70" y2="-17.17"/>
<linearGradient id="g378" href="#j" x1="591.00" y1="421.18" x2="472.68" y2="-25.18"/>
<linearGradient id="g379" href="#j" x1="577.61" y1="415.89" x2="463.63" y2="-13.23"/>
<linearGradient id="g380" href="#j" x1="570.28" y1="421.36" x2="471.54" y2="-19.14"/>
<linearGradient id="g381" href="#j" x1="556.75" y1="415.52" x2="459.93" y2="-9.20"/>
<linearGradient id="g382" href="#j" x1="548.61" y1="420.68" x2="466.65" y2="-13.47"/>
<linearGradient id="g383" href="#j" x1="535.05" y1="414.54" x2="453.17" y2="-5.48"/>
<linearGradient id="g384" href="#j" x1="526.23" y1="419.33" x2="458.69" y2="-8.47"/>
<linearGradient id="g385" href="#j" x1="512.66" y1="413.11" x2="443.86" y2="-2.27"/>
<linearGradient id="g386" href="#j" x1="503.24" y1="417.50" x2="448.22" y2="-4.30"/>
<linearGradient id="g387" href="#j" x1="489.63" y1="411.38" x2="432.44" y2="0.34"/>
<linearGradient id="g388" href="#j" x1="479.70" y1="415.35" x2="435.69" y2="-0.96"/>
<linearGradient id="g389" href="#j" x1="465.97" y1="409.49" x2="419.23" y2="2.35"/>
<linearGradient id="g390" href="#j" x1="455.57" y1="413.04" x2="421.46" y2="1.59"/>
<linearGradient id="g391" href="#j" x1="441.62" y1="407.57" x2="404.47" y2="3.78"/>
<linearGradient id="g392" href="#j" x1="430.79" y1="410.70" x2="405.75" y2="3.41"/></defs>
<g filter="url(#bl)"><rect width="685" height="533" fill="#fff"/>
<path d="M145.5,343.3L145.5,75.6M223.3,322.2L223.3,54.5M301.2,301.1L301.2,33.4M379.1,280L379.1,12.3M67.6,343.5L414.1,249.6M67.6,290.3L414.1,196.4M67.6,237L414.1,143.1M67.6,183.7L414.1,89.8M67.6,130.5L414.1,36.6M654.3,380.4L654.3,112.7M600.9,356L600.9,88.3M547.5,331.6L547.5,63.9M494.2,307.1L494.2,39.4M440.8,282.7L440.8,15M414.1,249.6L681,371.7M414.1,196.4L681,318.5M414.1,143.1L681,265.2M414.1,89.8L681,211.9M414.1,36.6L681,158.7M412.4,465.4L145.5,343.3M490.2,444.3L223.3,322.2M568.1,423.2L301.2,301.1M646,402.1L379.1,280M307.8,474.3L654.3,380.4M254.4,449.9L600.9,356M201.1,425.4L547.5,331.6M147.7,401L494.2,307.1M94.3,376.6L440.8,282.7" stroke="#ececec" stroke-width="1.1" stroke-dasharray="9 6" fill="none"/>
<path d="M67.6,364.4L67.6,96.7L414.1,2.8L681,124.9L681,392.6M67.6,364.4L414.1,270.5L681,392.6M414.1,270.5L414.1,2.8" stroke="#5a5a5a" stroke-width="1.3" fill="none"/>
<g stroke-linejoin="round"><path d="M334.5,356L359.2,358.5L340.2,348.7Z" fill="url(#g1)" stroke="url(#g1)" stroke-width="1.4"/><path d="M334.5,356L340.2,348.7L315.4,347.6Z" fill="url(#g2)" stroke="url(#g2)" stroke-width="1.4"/><path d="M315.4,347.6L340.2,348.7L321.1,339.3Z" fill="url(#g3)" stroke="url(#g3)" stroke-width="1.4"/><path d="M315.4,347.6L321.1,339.3L296.4,339.5Z" fill="url(#g4)" stroke="url(#g4)" stroke-width="1.4"/><path d="M296.4,339.5L321.1,339.3L302.1,330.1Z" fill="url(#g5)" stroke="url(#g5)" stroke-width="1.4"/><path d="M296.4,339.5L302.1,330.1L277.3,331.6Z" fill="url(#g6)" stroke="url(#g6)" stroke-width="1.4"/><path d="M277.3,331.6L302.1,330.1L283,320.9Z" fill="url(#g7)" stroke="url(#g7)" stroke-width="1.4"/><path d="M277.3,331.6L283,320.9L258.2,323.8Z" fill="url(#g8)" stroke="url(#g8)" stroke-width="1.4"/><path d="M258.2,323.8L283,320.9L263.9,311.7Z" fill="url(#g9)" stroke="url(#g9)" stroke-width="1.4"/><path d="M258.2,323.8L263.9,311.7L239.2,315.9Z" fill="url(#g10)" stroke="url(#g10)" stroke-width="1.4"/><path d="M239.2,315.9L263.9,311.7L244.9,302.3Z" fill="url(#g11)" stroke="url(#g11)" stroke-width="1.4"/><path d="M239.2,315.9L244.9,302.3L220.1,307.9Z" fill="url(#g12)" stroke="url(#g12)" stroke-width="1.4"/><path d="M220.1,307.9L244.9,302.3L225.8,292.7Z" fill="url(#g13)" stroke="url(#g13)" stroke-width="1.4"/><path d="M220.1,307.9L225.8,292.7L201.1,299.6Z" fill="url(#g14)" stroke="url(#g14)" stroke-width="1.4"/><path d="M201.1,299.6L225.8,292.7L206.7,282.7Z" fill="url(#g15)" stroke="url(#g15)" stroke-width="1.4"/><path d="M201.1,299.6L206.7,282.7L182,291.1Z" fill="url(#g16)" stroke="url(#g16)" stroke-width="1.4"/><path d="M182,291.1L206.7,282.7L187.7,272.5Z" fill="url(#g17)" stroke="url(#g17)" stroke-width="1.4"/><path d="M182,291.1L187.7,272.5L162.9,282.2Z" fill="url(#g18)" stroke="url(#g18)" stroke-width="1.4"/><path d="M162.9,282.2L187.7,272.5L168.6,261.9Z" fill="url(#g19)" stroke="url(#g19)" stroke-width="1.4"/><path d="M162.9,282.2L168.6,261.9L143.9,272.9Z" fill="url(#g20)" stroke="url(#g20)" stroke-width="1.4"/><path d="M143.9,272.9L168.6,261.9L149.5,251Z" fill="url(#g21)" stroke="url(#g21)" stroke-width="1.4"/><path d="M143.9,272.9L149.5,251L124.8,263.4Z" fill="url(#g22)" stroke="url(#g22)" stroke-width="1.4"/><path d="M124.8,263.4L149.5,251L130.5,239.7Z" fill="url(#g23)" stroke="url(#g23)" stroke-width="1.4"/><path d="M124.8,263.4L130.5,239.7L105.7,253.5Z" fill="url(#g24)" stroke="url(#g24)" stroke-width="1.4"/><path d="M105.7,253.5L130.5,239.7L111.4,228.2Z" fill="url(#g25)" stroke="url(#g25)" stroke-width="1.4"/><path d="M105.7,253.5L111.4,228.2L86.7,243.3Z" fill="url(#g26)" stroke="url(#g26)" stroke-width="1.4"/><path d="M86.7,243.3L111.4,228.2L92.4,216.6Z" fill="url(#g27)" stroke="url(#g27)" stroke-width="1.4"/><path d="M86.7,243.3L92.4,216.6L67.6,232.9Z" fill="url(#g28)" stroke="url(#g28)" stroke-width="1.4"/><path d="M359.2,358.5L384,361L364.9,349.9Z" fill="url(#g29)" stroke="url(#g29)" stroke-width="1.4"/><path d="M359.2,358.5L364.9,349.9L340.2,348.7Z" fill="url(#g30)" stroke="url(#g30)" stroke-width="1.4"/><path d="M340.2,348.7L364.9,349.9L345.9,339.1Z" fill="url(#g31)" stroke="url(#g31)" stroke-width="1.4"/><path d="M340.2,348.7L345.9,339.1L321.1,339.3Z" fill="url(#g32)" stroke="url(#g32)" stroke-width="1.4"/><path d="M321.1,339.3L345.9,339.1L326.8,328.6Z" fill="url(#g33)" stroke="url(#g33)" stroke-width="1.4"/><path d="M321.1,339.3L326.8,328.6L302.1,330.1Z" fill="url(#g34)" stroke="url(#g34)" stroke-width="1.4"/><path d="M302.1,330.1L326.8,328.6L307.7,318.1Z" fill="url(#g35)" stroke="url(#g35)" stroke-width="1.4"/><path d="M302.1,330.1L307.7,318.1L283,320.9Z" fill="url(#g36)" stroke="url(#g36)" stroke-width="1.4"/><path d="M283,320.9L307.7,318.1L288.7,307.5Z" fill="url(#g37)" stroke="url(#g37)" stroke-width="1.4"/><path d="M283,320.9L288.7,307.5L263.9,311.7Z" fill="url(#g38)" stroke="url(#g38)" stroke-width="1.4"/><path d="M263.9,311.7L288.7,307.5L269.6,296.7Z" fill="url(#g39)" stroke="url(#g39)" stroke-width="1.4"/><path d="M263.9,311.7L269.6,296.7L244.9,302.3Z" fill="url(#g40)" stroke="url(#g40)" stroke-width="1.4"/><path d="M244.9,302.3L269.6,296.7L250.6,285.7Z" fill="url(#g41)" stroke="url(#g41)" stroke-width="1.4"/><path d="M244.9,302.3L250.6,285.7L225.8,292.7Z" fill="url(#g42)" stroke="url(#g42)" stroke-width="1.4"/><path d="M225.8,292.7L250.6,285.7L231.5,274.4Z" fill="url(#g43)" stroke="url(#g43)" stroke-width="1.4"/><path d="M225.8,292.7L231.5,274.4L206.7,282.7Z" fill="url(#g44)" stroke="url(#g44)" stroke-width="1.4"/><path d="M206.7,282.7L231.5,274.4L212.4,262.8Z" fill="url(#g45)" stroke="url(#g45)" stroke-width="1.4"/><path d="M206.7,282.7L212.4,262.8L187.7,272.5Z" fill="url(#g46)" stroke="url(#g46)" stroke-width="1.4"/><path d="M187.7,272.5L212.4,262.8L193.4,250.8Z" fill="url(#g47)" stroke="url(#g47)" stroke-width="1.4"/><path d="M187.7,272.5L193.4,250.8L168.6,261.9Z" fill="url(#g48)" stroke="url(#g48)" stroke-width="1.4"/><path d="M168.6,261.9L193.4,250.8L174.3,238.6Z" fill="url(#g49)" stroke="url(#g49)" stroke-width="1.4"/><path d="M168.6,261.9L174.3,238.6L149.5,251Z" fill="url(#g50)" stroke="url(#g50)" stroke-width="1.4"/><path d="M149.5,251L174.3,238.6L155.2,226Z" fill="url(#g51)" stroke="url(#g51)" stroke-width="1.4"/><path d="M149.5,251L155.2,226L130.5,239.7Z" fill="url(#g52)" stroke="url(#g52)" stroke-width="1.4"/><path d="M130.5,239.7L155.2,226L136.2,213.2Z" fill="url(#g53)" stroke="url(#g53)" stroke-width="1.4"/><path d="M130.5,239.7L136.2,213.2L111.4,228.2Z" fill="url(#g54)" stroke="url(#g54)" stroke-width="1.4"/><path d="M111.4,228.2L136.2,213.2L117.1,200.2Z" fill="url(#g55)" stroke="url(#g55)" stroke-width="1.4"/><path d="M111.4,228.2L117.1,200.2L92.4,216.6Z" fill="url(#g56)" stroke="url(#g56)" stroke-width="1.4"/><path d="M384,361L408.8,363.5L389.7,351.1Z" fill="url(#g57)" stroke="url(#g57)" stroke-width="1.4"/><path d="M384,361L389.7,351.1L364.9,349.9Z" fill="url(#g58)" stroke="url(#g58)" stroke-width="1.4"/><path d="M364.9,349.9L389.7,351.1L370.6,339Z" fill="url(#g59)" stroke="url(#g59)" stroke-width="1.4"/><path d="M364.9,349.9L370.6,339L345.9,339.1Z" fill="url(#g60)" stroke="url(#g60)" stroke-width="1.4"/><path d="M345.9,339.1L370.6,339L351.6,327.1Z" fill="url(#g61)" stroke="url(#g61)" stroke-width="1.4"/><path d="M345.9,339.1L351.6,327.1L326.8,328.6Z" fill="url(#g62)" stroke="url(#g62)" stroke-width="1.4"/><path d="M326.8,328.6L351.6,327.1L332.5,315.2Z" fill="url(#g63)" stroke="url(#g63)" stroke-width="1.4"/><path d="M326.8,328.6L332.5,315.2L307.7,318.1Z" fill="url(#g64)" stroke="url(#g64)" stroke-width="1.4"/><path d="M307.7,318.1L332.5,315.2L313.4,303.3Z" fill="url(#g65)" stroke="url(#g65)" stroke-width="1.4"/><path d="M307.7,318.1L313.4,303.3L288.7,307.5Z" fill="url(#g66)" stroke="url(#g66)" stroke-width="1.4"/><path d="M288.7,307.5L313.4,303.3L294.4,291.1Z" fill="url(#g67)" stroke="url(#g67)" stroke-width="1.4"/><path d="M288.7,307.5L294.4,291.1L269.6,296.7Z" fill="url(#g68)" stroke="url(#g68)" stroke-width="1.4"/><path d="M269.6,296.7L294.4,291.1L275.3,278.8Z" fill="url(#g69)" stroke="url(#g69)" stroke-width="1.4"/><path d="M269.6,296.7L275.3,278.8L250.6,285.7Z" fill="url(#g70)" stroke="url(#g70)" stroke-width="1.4"/><path d="M250.6,285.7L275.3,278.8L256.2,266.1Z" fill="url(#g71)" stroke="url(#g71)" stroke-width="1.4"/><path d="M250.6,285.7L256.2,266.1L231.5,274.4Z" fill="url(#g72)" stroke="url(#g72)" stroke-width="1.4"/><path d="M231.5,274.4L256.2,266.1L237.2,253.1Z" fill="url(#g73)" stroke="url(#g73)" stroke-width="1.4"/><path d="M231.5,274.4L237.2,253.1L212.4,262.8Z" fill="url(#g74)" stroke="url(#g74)" stroke-width="1.4"/><path d="M212.4,262.8L237.2,253.1L218.1,239.8Z" fill="url(#g75)" stroke="url(#g75)" stroke-width="1.4"/><path d="M212.4,262.8L218.1,239.8L193.4,250.8Z" fill="url(#g76)" stroke="url(#g76)" stroke-width="1.4"/><path d="M193.4,250.8L218.1,239.8L199,226.2Z" fill="url(#g77)" stroke="url(#g77)" stroke-width="1.4"/><path d="M193.4,250.8L199,226.2L174.3,238.6Z" fill="url(#g78)" stroke="url(#g78)" stroke-width="1.4"/><path d="M174.3,238.6L199,226.2L180,212.2Z" fill="url(#g79)" stroke="url(#g79)" stroke-width="1.4"/><path d="M174.3,238.6L180,212.2L155.2,226Z" fill="url(#g80)" stroke="url(#g80)" stroke-width="1.4"/><path d="M155.2,226L180,212.2L160.9,198.1Z" fill="url(#g81)" stroke="url(#g81)" stroke-width="1.4"/><path d="M155.2,226L160.9,198.1L136.2,213.2Z" fill="url(#g82)" stroke="url(#g82)" stroke-width="1.4"/><path d="M136.2,213.2L160.9,198.1L141.9,183.8Z" fill="url(#g83)" stroke="url(#g83)" stroke-width="1.4"/><path d="M136.2,213.2L141.9,183.8L117.1,200.2Z" fill="url(#g84)" stroke="url(#g84)" stroke-width="1.4"/><path d="M408.8,363.5L433.5,366L414.4,352.3Z" fill="url(#g85)" stroke="url(#g85)" stroke-width="1.4"/><path d="M408.8,363.5L414.4,352.3L389.7,351.1Z" fill="url(#g86)" stroke="url(#g86)" stroke-width="1.4"/><path d="M389.7,351.1L414.4,352.3L395.4,338.9Z" fill="url(#g87)" stroke="url(#g87)" stroke-width="1.4"/><path d="M389.7,351.1L395.4,338.9L370.6,339Z" fill="url(#g88)" stroke="url(#g88)" stroke-width="1.4"/><path d="M370.6,339L395.4,338.9L376.3,325.6Z" fill="url(#g89)" stroke="url(#g89)" stroke-width="1.4"/><path d="M370.6,339L376.3,325.6L351.6,327.1Z" fill="url(#g90)" stroke="url(#g90)" stroke-width="1.4"/><path d="M351.6,327.1L376.3,325.6L357.2,312.4Z" fill="url(#g91)" stroke="url(#g91)" stroke-width="1.4"/><path d="M351.6,327.1L357.2,312.4L332.5,315.2Z" fill="url(#g92)" stroke="url(#g92)" stroke-width="1.4"/><path d="M332.5,315.2L357.2,312.4L338.2,299.1Z" fill="url(#g93)" stroke="url(#g93)" stroke-width="1.4"/><path d="M332.5,315.2L338.2,299.1L313.4,303.3Z" fill="url(#g94)" stroke="url(#g94)" stroke-width="1.4"/><path d="M313.4,303.3L338.2,299.1L319.1,285.6Z" fill="url(#g95)" stroke="url(#g95)" stroke-width="1.4"/><path d="M313.4,303.3L319.1,285.6L294.4,291.1Z" fill="url(#g96)" stroke="url(#g96)" stroke-width="1.4"/><path d="M294.4,291.1L319.1,285.6L300.1,271.8Z" fill="url(#g97)" stroke="url(#g97)" stroke-width="1.4"/><path d="M294.4,291.1L300.1,271.8L275.3,278.8Z" fill="url(#g98)" stroke="url(#g98)" stroke-width="1.4"/><path d="M275.3,278.8L300.1,271.8L281,257.8Z" fill="url(#g99)" stroke="url(#g99)" stroke-width="1.4"/><path d="M275.3,278.8L281,257.8L256.2,266.1Z" fill="url(#g100)" stroke="url(#g100)" stroke-width="1.4"/><path d="M256.2,266.1L281,257.8L261.9,243.4Z" fill="url(#g101)" stroke="url(#g101)" stroke-width="1.4"/><path d="M256.2,266.1L261.9,243.4L237.2,253.1Z" fill="url(#g102)" stroke="url(#g102)" stroke-width="1.4"/><path d="M237.2,253.1L261.9,243.4L242.9,228.7Z" fill="url(#g103)" stroke="url(#g103)" stroke-width="1.4"/><path d="M237.2,253.1L242.9,228.7L218.1,239.8Z" fill="url(#g104)" stroke="url(#g104)" stroke-width="1.4"/><path d="M218.1,239.8L242.9,228.7L223.8,213.7Z" fill="url(#g105)" stroke="url(#g105)" stroke-width="1.4"/><path d="M218.1,239.8L223.8,213.7L199,226.2Z" fill="url(#g106)" stroke="url(#g106)" stroke-width="1.4"/><path d="M199,226.2L223.8,213.7L204.7,198.5Z" fill="url(#g107)" stroke="url(#g107)" stroke-width="1.4"/><path d="M199,226.2L204.7,198.5L180,212.2Z" fill="url(#g108)" stroke="url(#g108)" stroke-width="1.4"/><path d="M180,212.2L204.7,198.5L185.7,183Z" fill="url(#g109)" stroke="url(#g109)" stroke-width="1.4"/><path d="M180,212.2L185.7,183L160.9,198.1Z" fill="url(#g110)" stroke="url(#g110)" stroke-width="1.4"/><path d="M160.9,198.1L185.7,183L166.6,167.4Z" fill="url(#g111)" stroke="url(#g111)" stroke-width="1.4"/><path d="M160.9,198.1L166.6,167.4L141.9,183.8Z" fill="url(#g112)" stroke="url(#g112)" stroke-width="1.4"/><path d="M433.5,366L458.2,368.5L439.2,353.5Z" fill="url(#g113)" stroke="url(#g113)" stroke-width="1.4"/><path d="M433.5,366L439.2,353.5L414.4,352.3Z" fill="url(#g114)" stroke="url(#g114)" stroke-width="1.4"/><path d="M414.4,352.3L439.2,353.5L420.1,338.8Z" fill="url(#g115)" stroke="url(#g115)" stroke-width="1.4"/><path d="M414.4,352.3L420.1,338.8L395.4,338.9Z" fill="url(#g116)" stroke="url(#g116)" stroke-width="1.4"/><path d="M395.4,338.9L420.1,338.8L401.1,324.2Z" fill="url(#g117)" stroke="url(#g117)" stroke-width="1.4"/><path d="M395.4,338.9L401.1,324.2L376.3,325.6Z" fill="url(#g118)" stroke="url(#g118)" stroke-width="1.4"/><path d="M376.3,325.6L401.1,324.2L382,309.6Z" fill="url(#g119)" stroke="url(#g119)" stroke-width="1.4"/><path d="M376.3,325.6L382,309.6L357.2,312.4Z" fill="url(#g120)" stroke="url(#g120)" stroke-width="1.4"/><path d="M357.2,312.4L382,309.6L362.9,294.9Z" fill="url(#g121)" stroke="url(#g121)" stroke-width="1.4"/><path d="M357.2,312.4L362.9,294.9L338.2,299.1Z" fill="url(#g122)" stroke="url(#g122)" stroke-width="1.4"/><path d="M338.2,299.1L362.9,294.9L343.9,280Z" fill="url(#g123)" stroke="url(#g123)" stroke-width="1.4"/><path d="M338.2,299.1L343.9,280L319.1,285.6Z" fill="url(#g124)" stroke="url(#g124)" stroke-width="1.4"/><path d="M319.1,285.6L343.9,280L324.8,264.9Z" fill="url(#g125)" stroke="url(#g125)" stroke-width="1.4"/><path d="M319.1,285.6L324.8,264.9L300.1,271.8Z" fill="url(#g126)" stroke="url(#g126)" stroke-width="1.4"/><path d="M300.1,271.8L324.8,264.9L305.7,249.4Z" fill="url(#g127)" stroke="url(#g127)" stroke-width="1.4"/><path d="M300.1,271.8L305.7,249.4L281,257.8Z" fill="url(#g128)" stroke="url(#g128)" stroke-width="1.4"/><path d="M281,257.8L305.7,249.4L286.7,233.7Z" fill="url(#g129)" stroke="url(#g129)" stroke-width="1.4"/><path d="M281,257.8L286.7,233.7L261.9,243.4Z" fill="url(#g130)" stroke="url(#g130)" stroke-width="1.4"/><path d="M261.9,243.4L286.7,233.7L267.6,217.7Z" fill="url(#g131)" stroke="url(#g131)" stroke-width="1.4"/><path d="M261.9,243.4L267.6,217.7L242.9,228.7Z" fill="url(#g132)" stroke="url(#g132)" stroke-width="1.4"/><path d="M242.9,228.7L267.6,217.7L248.5,201.3Z" fill="url(#g133)" stroke="url(#g133)" stroke-width="1.4"/><path d="M242.9,228.7L248.5,201.3L223.8,213.7Z" fill="url(#g134)" stroke="url(#g134)" stroke-width="1.4"/><path d="M223.8,213.7L248.5,201.3L229.5,184.7Z" fill="url(#g135)" stroke="url(#g135)" stroke-width="1.4"/><path d="M223.8,213.7L229.5,184.7L204.7,198.5Z" fill="url(#g136)" stroke="url(#g136)" stroke-width="1.4"/><path d="M204.7,198.5L229.5,184.7L210.4,167.9Z" fill="url(#g137)" stroke="url(#g137)" stroke-width="1.4"/><path d="M204.7,198.5L210.4,167.9L185.7,183Z" fill="url(#g138)" stroke="url(#g138)" stroke-width="1.4"/><path d="M185.7,183L210.4,167.9L191.4,151Z" fill="url(#g139)" stroke="url(#g139)" stroke-width="1.4"/><path d="M185.7,183L191.4,151L166.6,167.4Z" fill="url(#g140)" stroke="url(#g140)" stroke-width="1.4"/><path d="M458.2,368.5L483,371.1L463.9,354.8Z" fill="url(#g141)" stroke="url(#g141)" stroke-width="1.4"/><path d="M458.2,368.5L463.9,354.8L439.2,353.5Z" fill="url(#g142)" stroke="url(#g142)" stroke-width="1.4"/><path d="M439.2,353.5L463.9,354.8L444.9,338.7Z" fill="url(#g143)" stroke="url(#g143)" stroke-width="1.4"/><path d="M439.2,353.5L444.9,338.7L420.1,338.8Z" fill="url(#g144)" stroke="url(#g144)" stroke-width="1.4"/><path d="M420.1,338.8L444.9,338.7L425.8,322.7Z" fill="url(#g145)" stroke="url(#g145)" stroke-width="1.4"/><path d="M420.1,338.8L425.8,322.7L401.1,324.2Z" fill="url(#g146)" stroke="url(#g146)" stroke-width="1.4"/><path d="M401.1,324.2L425.8,322.7L406.7,306.8Z" fill="url(#g147)" stroke="url(#g147)" stroke-width="1.4"/><path d="M401.1,324.2L406.7,306.8L382,309.6Z" fill="url(#g148)" stroke="url(#g148)" stroke-width="1.4"/><path d="M382,309.6L406.7,306.8L387.7,290.7Z" fill="url(#g149)" stroke="url(#g149)" stroke-width="1.4"/><path d="M382,309.6L387.7,290.7L362.9,294.9Z" fill="url(#g150)" stroke="url(#g150)" stroke-width="1.4"/><path d="M362.9,294.9L387.7,290.7L368.6,274.4Z" fill="url(#g151)" stroke="url(#g151)" stroke-width="1.4"/><path d="M362.9,294.9L368.6,274.4L343.9,280Z" fill="url(#g152)" stroke="url(#g152)" stroke-width="1.4"/><path d="M343.9,280L368.6,274.4L349.6,257.9Z" fill="url(#g153)" stroke="url(#g153)" stroke-width="1.4"/><path d="M343.9,280L349.6,257.9L324.8,264.9Z" fill="url(#g154)" stroke="url(#g154)" stroke-width="1.4"/><path d="M324.8,264.9L349.6,257.9L330.5,241.1Z" fill="url(#g155)" stroke="url(#g155)" stroke-width="1.4"/><path d="M324.8,264.9L330.5,241.1L305.7,249.4Z" fill="url(#g156)" stroke="url(#g156)" stroke-width="1.4"/><path d="M305.7,249.4L330.5,241.1L311.4,224Z" fill="url(#g157)" stroke="url(#g157)" stroke-width="1.4"/><path d="M305.7,249.4L311.4,224L286.7,233.7Z" fill="url(#g158)" stroke="url(#g158)" stroke-width="1.4"/><path d="M286.7,233.7L311.4,224L292.4,206.6Z" fill="url(#g159)" stroke="url(#g159)" stroke-width="1.4"/><path d="M286.7,233.7L292.4,206.6L267.6,217.7Z" fill="url(#g160)" stroke="url(#g160)" stroke-width="1.4"/><path d="M267.6,217.7L292.4,206.6L273.3,188.9Z" fill="url(#g161)" stroke="url(#g161)" stroke-width="1.4"/><path d="M267.6,217.7L273.3,188.9L248.5,201.3Z" fill="url(#g162)" stroke="url(#g162)" stroke-width="1.4"/><path d="M248.5,201.3L273.3,188.9L254.2,170.9Z" fill="url(#g163)" stroke="url(#g163)" stroke-width="1.4"/><path d="M248.5,201.3L254.2,170.9L229.5,184.7Z" fill="url(#g164)" stroke="url(#g164)" stroke-width="1.4"/><path d="M229.5,184.7L254.2,170.9L235.2,152.8Z" fill="url(#g165)" stroke="url(#g165)" stroke-width="1.4"/><path d="M229.5,184.7L235.2,152.8L210.4,167.9Z" fill="url(#g166)" stroke="url(#g166)" stroke-width="1.4"/><path d="M210.4,167.9L235.2,152.8L216.1,134.6Z" fill="url(#g167)" stroke="url(#g167)" stroke-width="1.4"/><path d="M210.4,167.9L216.1,134.6L191.4,151Z" fill="url(#g168)" stroke="url(#g168)" stroke-width="1.4"/><path d="M483,371.1L507.8,373.7L488.7,356.1Z" fill="url(#g169)" stroke="url(#g169)" stroke-width="1.4"/><path d="M483,371.1L488.7,356.1L463.9,354.8Z" fill="url(#g170)" stroke="url(#g170)" stroke-width="1.4"/><path d="M463.9,354.8L488.7,356.1L469.6,338.6Z" fill="url(#g171)" stroke="url(#g171)" stroke-width="1.4"/><path d="M463.9,354.8L469.6,338.6L444.9,338.7Z" fill="url(#g172)" stroke="url(#g172)" stroke-width="1.4"/><path d="M444.9,338.7L469.6,338.6L450.6,321.3Z" fill="url(#g173)" stroke="url(#g173)" stroke-width="1.4"/><path d="M444.9,338.7L450.6,321.3L425.8,322.7Z" fill="url(#g174)" stroke="url(#g174)" stroke-width="1.4"/><path d="M425.8,322.7L450.6,321.3L431.5,304Z" fill="url(#g175)" stroke="url(#g175)" stroke-width="1.4"/><path d="M425.8,322.7L431.5,304L406.7,306.8Z" fill="url(#g176)" stroke="url(#g176)" stroke-width="1.4"/><path d="M406.7,306.8L431.5,304L412.4,286.6Z" fill="url(#g177)" stroke="url(#g177)" stroke-width="1.4"/><path d="M406.7,306.8L412.4,286.6L387.7,290.7Z" fill="url(#g178)" stroke="url(#g178)" stroke-width="1.4"/><path d="M387.7,290.7L412.4,286.6L393.4,268.9Z" fill="url(#g179)" stroke="url(#g179)" stroke-width="1.4"/><path d="M387.7,290.7L393.4,268.9L368.6,274.4Z" fill="url(#g180)" stroke="url(#g180)" stroke-width="1.4"/><path d="M368.6,274.4L393.4,268.9L374.3,251Z" fill="url(#g181)" stroke="url(#g181)" stroke-width="1.4"/><path d="M368.6,274.4L374.3,251L349.6,257.9Z" fill="url(#g182)" stroke="url(#g182)" stroke-width="1.4"/><path d="M349.6,257.9L374.3,251L355.2,232.8Z" fill="url(#g183)" stroke="url(#g183)" stroke-width="1.4"/><path d="M349.6,257.9L355.2,232.8L330.5,241.1Z" fill="url(#g184)" stroke="url(#g184)" stroke-width="1.4"/><path d="M330.5,241.1L355.2,232.8L336.2,214.3Z" fill="url(#g185)" stroke="url(#g185)" stroke-width="1.4"/><path d="M330.5,241.1L336.2,214.3L311.4,224Z" fill="url(#g186)" stroke="url(#g186)" stroke-width="1.4"/><path d="M311.4,224L336.2,214.3L317.1,195.5Z" fill="url(#g187)" stroke="url(#g187)" stroke-width="1.4"/><path d="M311.4,224L317.1,195.5L292.4,206.6Z" fill="url(#g188)" stroke="url(#g188)" stroke-width="1.4"/><path d="M292.4,206.6L317.1,195.5L298,176.4Z" fill="url(#g189)" stroke="url(#g189)" stroke-width="1.4"/><path d="M292.4,206.6L298,176.4L273.3,188.9Z" fill="url(#g190)" stroke="url(#g190)" stroke-width="1.4"/><path d="M273.3,188.9L298,176.4L279,157.1Z" fill="url(#g191)" stroke="url(#g191)" stroke-width="1.4"/><path d="M273.3,188.9L279,157.1L254.2,170.9Z" fill="url(#g192)" stroke="url(#g192)" stroke-width="1.4"/><path d="M254.2,170.9L279,157.1L259.9,137.7Z" fill="url(#g193)" stroke="url(#g193)" stroke-width="1.4"/><path d="M254.2,170.9L259.9,137.7L235.2,152.8Z" fill="url(#g194)" stroke="url(#g194)" stroke-width="1.4"/><path d="M235.2,152.8L259.9,137.7L240.9,118.1Z" fill="url(#g195)" stroke="url(#g195)" stroke-width="1.4"/><path d="M235.2,152.8L240.9,118.1L216.1,134.6Z" fill="url(#g196)" stroke="url(#g196)" stroke-width="1.4"/><path d="M507.8,373.7L532.5,376.3L513.4,357.4Z" fill="url(#g197)" stroke="url(#g197)" stroke-width="1.4"/><path d="M507.8,373.7L513.4,357.4L488.7,356.1Z" fill="url(#g198)" stroke="url(#g198)" stroke-width="1.4"/><path d="M488.7,356.1L513.4,357.4L494.4,338.6Z" fill="url(#g199)" stroke="url(#g199)" stroke-width="1.4"/><path d="M488.7,356.1L494.4,338.6L469.6,338.6Z" fill="url(#g200)" stroke="url(#g200)" stroke-width="1.4"/><path d="M469.6,338.6L494.4,338.6L475.3,319.9Z" fill="url(#g201)" stroke="url(#g201)" stroke-width="1.4"/><path d="M469.6,338.6L475.3,319.9L450.6,321.3Z" fill="url(#g202)" stroke="url(#g202)" stroke-width="1.4"/><path d="M450.6,321.3L475.3,319.9L456.2,301.2Z" fill="url(#g203)" stroke="url(#g203)" stroke-width="1.4"/><path d="M450.6,321.3L456.2,301.2L431.5,304Z" fill="url(#g204)" stroke="url(#g204)" stroke-width="1.4"/><path d="M431.5,304L456.2,301.2L437.2,282.4Z" fill="url(#g205)" stroke="url(#g205)" stroke-width="1.4"/><path d="M431.5,304L437.2,282.4L412.4,286.6Z" fill="url(#g206)" stroke="url(#g206)" stroke-width="1.4"/><path d="M412.4,286.6L437.2,282.4L418.1,263.4Z" fill="url(#g207)" stroke="url(#g207)" stroke-width="1.4"/><path d="M412.4,286.6L418.1,263.4L393.4,268.9Z" fill="url(#g208)" stroke="url(#g208)" stroke-width="1.4"/><path d="M393.4,268.9L418.1,263.4L399.1,244.1Z" fill="url(#g209)" stroke="url(#g209)" stroke-width="1.4"/><path d="M393.4,268.9L399.1,244.1L374.3,251Z" fill="url(#g210)" stroke="url(#g210)" stroke-width="1.4"/><path d="M374.3,251L399.1,244.1L380,224.5Z" fill="url(#g211)" stroke="url(#g211)" stroke-width="1.4"/><path d="M374.3,251L380,224.5L355.2,232.8Z" fill="url(#g212)" stroke="url(#g212)" stroke-width="1.4"/><path d="M355.2,232.8L380,224.5L360.9,204.6Z" fill="url(#g213)" stroke="url(#g213)" stroke-width="1.4"/><path d="M355.2,232.8L360.9,204.6L336.2,214.3Z" fill="url(#g214)" stroke="url(#g214)" stroke-width="1.4"/><path d="M336.2,214.3L360.9,204.6L341.9,184.4Z" fill="url(#g215)" stroke="url(#g215)" stroke-width="1.4"/><path d="M336.2,214.3L341.9,184.4L317.1,195.5Z" fill="url(#g216)" stroke="url(#g216)" stroke-width="1.4"/><path d="M317.1,195.5L341.9,184.4L322.8,164Z" fill="url(#g217)" stroke="url(#g217)" stroke-width="1.4"/><path d="M317.1,195.5L322.8,164L298,176.4Z" fill="url(#g218)" stroke="url(#g218)" stroke-width="1.4"/><path d="M298,176.4L322.8,164L303.7,143.3Z" fill="url(#g219)" stroke="url(#g219)" stroke-width="1.4"/><path d="M298,176.4L303.7,143.3L279,157.1Z" fill="url(#g220)" stroke="url(#g220)" stroke-width="1.4"/><path d="M279,157.1L303.7,143.3L284.7,122.5Z" fill="url(#g221)" stroke="url(#g221)" stroke-width="1.4"/><path d="M279,157.1L284.7,122.5L259.9,137.7Z" fill="url(#g222)" stroke="url(#g222)" stroke-width="1.4"/><path d="M259.9,137.7L284.7,122.5L265.6,101.7Z" fill="url(#g223)" stroke="url(#g223)" stroke-width="1.4"/><path d="M259.9,137.7L265.6,101.7L240.9,118.1Z" fill="url(#g224)" stroke="url(#g224)" stroke-width="1.4"/><path d="M532.5,376.3L557.2,379L538.2,358.7Z" fill="url(#g225)" stroke="url(#g225)" stroke-width="1.4"/><path d="M532.5,376.3L538.2,358.7L513.4,357.4Z" fill="url(#g226)" stroke="url(#g226)" stroke-width="1.4"/><path d="M513.4,357.4L538.2,358.7L519.1,338.6Z" fill="url(#g227)" stroke="url(#g227)" stroke-width="1.4"/><path d="M513.4,357.4L519.1,338.6L494.4,338.6Z" fill="url(#g228)" stroke="url(#g228)" stroke-width="1.4"/><path d="M494.4,338.6L519.1,338.6L500.1,318.6Z" fill="url(#g229)" stroke="url(#g229)" stroke-width="1.4"/><path d="M494.4,338.6L500.1,318.6L475.3,319.9Z" fill="url(#g230)" stroke="url(#g230)" stroke-width="1.4"/><path d="M475.3,319.9L500.1,318.6L481,298.5Z" fill="url(#g231)" stroke="url(#g231)" stroke-width="1.4"/><path d="M475.3,319.9L481,298.5L456.2,301.2Z" fill="url(#g232)" stroke="url(#g232)" stroke-width="1.4"/><path d="M456.2,301.2L481,298.5L461.9,278.3Z" fill="url(#g233)" stroke="url(#g233)" stroke-width="1.4"/><path d="M456.2,301.2L461.9,278.3L437.2,282.4Z" fill="url(#g234)" stroke="url(#g234)" stroke-width="1.4"/><path d="M437.2,282.4L461.9,278.3L442.9,257.8Z" fill="url(#g235)" stroke="url(#g235)" stroke-width="1.4"/><path d="M437.2,282.4L442.9,257.8L418.1,263.4Z" fill="url(#g236)" stroke="url(#g236)" stroke-width="1.4"/><path d="M418.1,263.4L442.9,257.8L423.8,237.2Z" fill="url(#g237)" stroke="url(#g237)" stroke-width="1.4"/><path d="M418.1,263.4L423.8,237.2L399.1,244.1Z" fill="url(#g238)" stroke="url(#g238)" stroke-width="1.4"/><path d="M399.1,244.1L423.8,237.2L404.7,216.2Z" fill="url(#g239)" stroke="url(#g239)" stroke-width="1.4"/><path d="M399.1,244.1L404.7,216.2L380,224.5Z" fill="url(#g240)" stroke="url(#g240)" stroke-width="1.4"/><path d="M380,224.5L404.7,216.2L385.7,194.9Z" fill="url(#g241)" stroke="url(#g241)" stroke-width="1.4"/><path d="M380,224.5L385.7,194.9L360.9,204.6Z" fill="url(#g242)" stroke="url(#g242)" stroke-width="1.4"/><path d="M360.9,204.6L385.7,194.9L366.6,173.4Z" fill="url(#g243)" stroke="url(#g243)" stroke-width="1.4"/><path d="M360.9,204.6L366.6,173.4L341.9,184.4Z" fill="url(#g244)" stroke="url(#g244)" stroke-width="1.4"/><path d="M341.9,184.4L366.6,173.4L347.5,151.5Z" fill="url(#g245)" stroke="url(#g245)" stroke-width="1.4"/><path d="M341.9,184.4L347.5,151.5L322.8,164Z" fill="url(#g246)" stroke="url(#g246)" stroke-width="1.4"/><path d="M322.8,164L347.5,151.5L328.5,129.5Z" fill="url(#g247)" stroke="url(#g247)" stroke-width="1.4"/><path d="M322.8,164L328.5,129.5L303.7,143.3Z" fill="url(#g248)" stroke="url(#g248)" stroke-width="1.4"/><path d="M303.7,143.3L328.5,129.5L309.4,107.4Z" fill="url(#g249)" stroke="url(#g249)" stroke-width="1.4"/><path d="M303.7,143.3L309.4,107.4L284.7,122.5Z" fill="url(#g250)" stroke="url(#g250)" stroke-width="1.4"/><path d="M284.7,122.5L309.4,107.4L290.4,85.2Z" fill="url(#g251)" stroke="url(#g251)" stroke-width="1.4"/><path d="M284.7,122.5L290.4,85.2L265.6,101.7Z" fill="url(#g252)" stroke="url(#g252)" stroke-width="1.4"/><path d="M557.2,379L582,381.7L562.9,360Z" fill="url(#g253)" stroke="url(#g253)" stroke-width="1.4"/><path d="M557.2,379L562.9,360L538.2,358.7Z" fill="url(#g254)" stroke="url(#g254)" stroke-width="1.4"/><path d="M538.2,358.7L562.9,360L543.9,338.6Z" fill="url(#g255)" stroke="url(#g255)" stroke-width="1.4"/><path d="M538.2,358.7L543.9,338.6L519.1,338.6Z" fill="url(#g256)" stroke="url(#g256)" stroke-width="1.4"/><path d="M519.1,338.6L543.9,338.6L524.8,317.2Z" fill="url(#g257)" stroke="url(#g257)" stroke-width="1.4"/><path d="M519.1,338.6L524.8,317.2L500.1,318.6Z" fill="url(#g258)" stroke="url(#g258)" stroke-width="1.4"/><path d="M500.1,318.6L524.8,317.2L505.7,295.7Z" fill="url(#g259)" stroke="url(#g259)" stroke-width="1.4"/><path d="M500.1,318.6L505.7,295.7L481,298.5Z" fill="url(#g260)" stroke="url(#g260)" stroke-width="1.4"/><path d="M481,298.5L505.7,295.7L486.7,274.1Z" fill="url(#g261)" stroke="url(#g261)" stroke-width="1.4"/><path d="M481,298.5L486.7,274.1L461.9,278.3Z" fill="url(#g262)" stroke="url(#g262)" stroke-width="1.4"/><path d="M461.9,278.3L486.7,274.1L467.6,252.3Z" fill="url(#g263)" stroke="url(#g263)" stroke-width="1.4"/><path d="M461.9,278.3L467.6,252.3L442.9,257.8Z" fill="url(#g264)" stroke="url(#g264)" stroke-width="1.4"/><path d="M442.9,257.8L467.6,252.3L448.6,230.2Z" fill="url(#g265)" stroke="url(#g265)" stroke-width="1.4"/><path d="M442.9,257.8L448.6,230.2L423.8,237.2Z" fill="url(#g266)" stroke="url(#g266)" stroke-width="1.4"/><path d="M423.8,237.2L448.6,230.2L429.5,207.9Z" fill="url(#g267)" stroke="url(#g267)" stroke-width="1.4"/><path d="M423.8,237.2L429.5,207.9L404.7,216.2Z" fill="url(#g268)" stroke="url(#g268)" stroke-width="1.4"/><path d="M404.7,216.2L429.5,207.9L410.4,185.2Z" fill="url(#g269)" stroke="url(#g269)" stroke-width="1.4"/><path d="M404.7,216.2L410.4,185.2L385.7,194.9Z" fill="url(#g270)" stroke="url(#g270)" stroke-width="1.4"/><path d="M385.7,194.9L410.4,185.2L391.4,162.3Z" fill="url(#g271)" stroke="url(#g271)" stroke-width="1.4"/><path d="M385.7,194.9L391.4,162.3L366.6,173.4Z" fill="url(#g272)" stroke="url(#g272)" stroke-width="1.4"/><path d="M366.6,173.4L391.4,162.3L372.3,139.1Z" fill="url(#g273)" stroke="url(#g273)" stroke-width="1.4"/><path d="M366.6,173.4L372.3,139.1L347.5,151.5Z" fill="url(#g274)" stroke="url(#g274)" stroke-width="1.4"/><path d="M347.5,151.5L372.3,139.1L353.2,115.7Z" fill="url(#g275)" stroke="url(#g275)" stroke-width="1.4"/><path d="M347.5,151.5L353.2,115.7L328.5,129.5Z" fill="url(#g276)" stroke="url(#g276)" stroke-width="1.4"/><path d="M328.5,129.5L353.2,115.7L334.2,92.2Z" fill="url(#g277)" stroke="url(#g277)" stroke-width="1.4"/><path d="M328.5,129.5L334.2,92.2L309.4,107.4Z" fill="url(#g278)" stroke="url(#g278)" stroke-width="1.4"/><path d="M309.4,107.4L334.2,92.2L315.1,68.7Z" fill="url(#g279)" stroke="url(#g279)" stroke-width="1.4"/><path d="M309.4,107.4L315.1,68.7L290.4,85.2Z" fill="url(#g280)" stroke="url(#g280)" stroke-width="1.4"/><path d="M582,381.7L606.8,384.4L587.7,361.4Z" fill="url(#g281)" stroke="url(#g281)" stroke-width="1.4"/><path d="M582,381.7L587.7,361.4L562.9,360Z" fill="url(#g282)" stroke="url(#g282)" stroke-width="1.4"/><path d="M562.9,360L587.7,361.4L568.6,338.6Z" fill="url(#g283)" stroke="url(#g283)" stroke-width="1.4"/><path d="M562.9,360L568.6,338.6L543.9,338.6Z" fill="url(#g284)" stroke="url(#g284)" stroke-width="1.4"/><path d="M543.9,338.6L568.6,338.6L549.6,315.8Z" fill="url(#g285)" stroke="url(#g285)" stroke-width="1.4"/><path d="M543.9,338.6L549.6,315.8L524.8,317.2Z" fill="url(#g286)" stroke="url(#g286)" stroke-width="1.4"/><path d="M524.8,317.2L549.6,315.8L530.5,293Z" fill="url(#g287)" stroke="url(#g287)" stroke-width="1.4"/><path d="M524.8,317.2L530.5,293L505.7,295.7Z" fill="url(#g288)" stroke="url(#g288)" stroke-width="1.4"/><path d="M505.7,295.7L530.5,293L511.4,270Z" fill="url(#g289)" stroke="url(#g289)" stroke-width="1.4"/><path d="M505.7,295.7L511.4,270L486.7,274.1Z" fill="url(#g290)" stroke="url(#g290)" stroke-width="1.4"/><path d="M486.7,274.1L511.4,270L492.4,246.8Z" fill="url(#g291)" stroke="url(#g291)" stroke-width="1.4"/><path d="M486.7,274.1L492.4,246.8L467.6,252.3Z" fill="url(#g292)" stroke="url(#g292)" stroke-width="1.4"/><path d="M467.6,252.3L492.4,246.8L473.3,223.3Z" fill="url(#g293)" stroke="url(#g293)" stroke-width="1.4"/><path d="M467.6,252.3L473.3,223.3L448.6,230.2Z" fill="url(#g294)" stroke="url(#g294)" stroke-width="1.4"/><path d="M448.6,230.2L473.3,223.3L454.2,199.6Z" fill="url(#g295)" stroke="url(#g295)" stroke-width="1.4"/><path d="M448.6,230.2L454.2,199.6L429.5,207.9Z" fill="url(#g296)" stroke="url(#g296)" stroke-width="1.4"/><path d="M429.5,207.9L454.2,199.6L435.2,175.5Z" fill="url(#g297)" stroke="url(#g297)" stroke-width="1.4"/><path d="M429.5,207.9L435.2,175.5L410.4,185.2Z" fill="url(#g298)" stroke="url(#g298)" stroke-width="1.4"/><path d="M410.4,185.2L435.2,175.5L416.1,151.2Z" fill="url(#g299)" stroke="url(#g299)" stroke-width="1.4"/><path d="M410.4,185.2L416.1,151.2L391.4,162.3Z" fill="url(#g300)" stroke="url(#g300)" stroke-width="1.4"/><path d="M391.4,162.3L416.1,151.2L397,126.6Z" fill="url(#g301)" stroke="url(#g301)" stroke-width="1.4"/><path d="M391.4,162.3L397,126.6L372.3,139.1Z" fill="url(#g302)" stroke="url(#g302)" stroke-width="1.4"/><path d="M372.3,139.1L397,126.6L378,101.9Z" fill="url(#g303)" stroke="url(#g303)" stroke-width="1.4"/><path d="M372.3,139.1L378,101.9L353.2,115.7Z" fill="url(#g304)" stroke="url(#g304)" stroke-width="1.4"/><path d="M353.2,115.7L378,101.9L358.9,77.1Z" fill="url(#g305)" stroke="url(#g305)" stroke-width="1.4"/><path d="M353.2,115.7L358.9,77.1L334.2,92.2Z" fill="url(#g306)" stroke="url(#g306)" stroke-width="1.4"/><path d="M334.2,92.2L358.9,77.1L339.9,52.2Z" fill="url(#g307)" stroke="url(#g307)" stroke-width="1.4"/><path d="M334.2,92.2L339.9,52.2L315.1,68.7Z" fill="url(#g308)" stroke="url(#g308)" stroke-width="1.4"/><path d="M606.8,384.4L631.5,387.1L612.4,362.8Z" fill="url(#g309)" stroke="url(#g309)" stroke-width="1.4"/><path d="M606.8,384.4L612.4,362.8L587.7,361.4Z" fill="url(#g310)" stroke="url(#g310)" stroke-width="1.4"/><path d="M587.7,361.4L612.4,362.8L593.4,338.6Z" fill="url(#g311)" stroke="url(#g311)" stroke-width="1.4"/><path d="M587.7,361.4L593.4,338.6L568.6,338.6Z" fill="url(#g312)" stroke="url(#g312)" stroke-width="1.4"/><path d="M568.6,338.6L593.4,338.6L574.3,314.5Z" fill="url(#g313)" stroke="url(#g313)" stroke-width="1.4"/><path d="M568.6,338.6L574.3,314.5L549.6,315.8Z" fill="url(#g314)" stroke="url(#g314)" stroke-width="1.4"/><path d="M549.6,315.8L574.3,314.5L555.2,290.3Z" fill="url(#g315)" stroke="url(#g315)" stroke-width="1.4"/><path d="M549.6,315.8L555.2,290.3L530.5,293Z" fill="url(#g316)" stroke="url(#g316)" stroke-width="1.4"/><path d="M530.5,293L555.2,290.3L536.2,265.9Z" fill="url(#g317)" stroke="url(#g317)" stroke-width="1.4"/><path d="M530.5,293L536.2,265.9L511.4,270Z" fill="url(#g318)" stroke="url(#g318)" stroke-width="1.4"/><path d="M511.4,270L536.2,265.9L517.1,241.3Z" fill="url(#g319)" stroke="url(#g319)" stroke-width="1.4"/><path d="M511.4,270L517.1,241.3L492.4,246.8Z" fill="url(#g320)" stroke="url(#g320)" stroke-width="1.4"/><path d="M492.4,246.8L517.1,241.3L498.1,216.4Z" fill="url(#g321)" stroke="url(#g321)" stroke-width="1.4"/><path d="M492.4,246.8L498.1,216.4L473.3,223.3Z" fill="url(#g322)" stroke="url(#g322)" stroke-width="1.4"/><path d="M473.3,223.3L498.1,216.4L479,191.3Z" fill="url(#g323)" stroke="url(#g323)" stroke-width="1.4"/><path d="M473.3,223.3L479,191.3L454.2,199.6Z" fill="url(#g324)" stroke="url(#g324)" stroke-width="1.4"/><path d="M454.2,199.6L479,191.3L459.9,165.8Z" fill="url(#g325)" stroke="url(#g325)" stroke-width="1.4"/><path d="M454.2,199.6L459.9,165.8L435.2,175.5Z" fill="url(#g326)" stroke="url(#g326)" stroke-width="1.4"/><path d="M435.2,175.5L459.9,165.8L440.9,140.1Z" fill="url(#g327)" stroke="url(#g327)" stroke-width="1.4"/><path d="M435.2,175.5L440.9,140.1L416.1,151.2Z" fill="url(#g328)" stroke="url(#g328)" stroke-width="1.4"/><path d="M416.1,151.2L440.9,140.1L421.8,114.2Z" fill="url(#g329)" stroke="url(#g329)" stroke-width="1.4"/><path d="M416.1,151.2L421.8,114.2L397,126.6Z" fill="url(#g330)" stroke="url(#g330)" stroke-width="1.4"/><path d="M397,126.6L421.8,114.2L402.7,88.1Z" fill="url(#g331)" stroke="url(#g331)" stroke-width="1.4"/><path d="M397,126.6L402.7,88.1L378,101.9Z" fill="url(#g332)" stroke="url(#g332)" stroke-width="1.4"/><path d="M378,101.9L402.7,88.1L383.7,61.9Z" fill="url(#g333)" stroke="url(#g333)" stroke-width="1.4"/><path d="M378,101.9L383.7,61.9L358.9,77.1Z" fill="url(#g334)" stroke="url(#g334)" stroke-width="1.4"/><path d="M358.9,77.1L383.7,61.9L364.6,35.7Z" fill="url(#g335)" stroke="url(#g335)" stroke-width="1.4"/><path d="M358.9,77.1L364.6,35.7L339.9,52.2Z" fill="url(#g336)" stroke="url(#g336)" stroke-width="1.4"/><path d="M631.5,387.1L656.2,389.8L637.2,364.2Z" fill="url(#g337)" stroke="url(#g337)" stroke-width="1.4"/><path d="M631.5,387.1L637.2,364.2L612.4,362.8Z" fill="url(#g338)" stroke="url(#g338)" stroke-width="1.4"/><path d="M612.4,362.8L637.2,364.2L618.1,338.7Z" fill="url(#g339)" stroke="url(#g339)" stroke-width="1.4"/><path d="M612.4,362.8L618.1,338.7L593.4,338.6Z" fill="url(#g340)" stroke="url(#g340)" stroke-width="1.4"/><path d="M593.4,338.6L618.1,338.7L599.1,313.2Z" fill="url(#g341)" stroke="url(#g341)" stroke-width="1.4"/><path d="M593.4,338.6L599.1,313.2L574.3,314.5Z" fill="url(#g342)" stroke="url(#g342)" stroke-width="1.4"/><path d="M574.3,314.5L599.1,313.2L580,287.6Z" fill="url(#g343)" stroke="url(#g343)" stroke-width="1.4"/><path d="M574.3,314.5L580,287.6L555.2,290.3Z" fill="url(#g344)" stroke="url(#g344)" stroke-width="1.4"/><path d="M555.2,290.3L580,287.6L560.9,261.8Z" fill="url(#g345)" stroke="url(#g345)" stroke-width="1.4"/><path d="M555.2,290.3L560.9,261.8L536.2,265.9Z" fill="url(#g346)" stroke="url(#g346)" stroke-width="1.4"/><path d="M536.2,265.9L560.9,261.8L541.9,235.8Z" fill="url(#g347)" stroke="url(#g347)" stroke-width="1.4"/><path d="M536.2,265.9L541.9,235.8L517.1,241.3Z" fill="url(#g348)" stroke="url(#g348)" stroke-width="1.4"/><path d="M517.1,241.3L541.9,235.8L522.8,209.5Z" fill="url(#g349)" stroke="url(#g349)" stroke-width="1.4"/><path d="M517.1,241.3L522.8,209.5L498.1,216.4Z" fill="url(#g350)" stroke="url(#g350)" stroke-width="1.4"/><path d="M498.1,216.4L522.8,209.5L503.7,183Z" fill="url(#g351)" stroke="url(#g351)" stroke-width="1.4"/><path d="M498.1,216.4L503.7,183L479,191.3Z" fill="url(#g352)" stroke="url(#g352)" stroke-width="1.4"/><path d="M479,191.3L503.7,183L484.7,156.1Z" fill="url(#g353)" stroke="url(#g353)" stroke-width="1.4"/><path d="M479,191.3L484.7,156.1L459.9,165.8Z" fill="url(#g354)" stroke="url(#g354)" stroke-width="1.4"/><path d="M459.9,165.8L484.7,156.1L465.6,129Z" fill="url(#g355)" stroke="url(#g355)" stroke-width="1.4"/><path d="M459.9,165.8L465.6,129L440.9,140.1Z" fill="url(#g356)" stroke="url(#g356)" stroke-width="1.4"/><path d="M440.9,140.1L465.6,129L446.5,101.7Z" fill="url(#g357)" stroke="url(#g357)" stroke-width="1.4"/><path d="M440.9,140.1L446.5,101.7L421.8,114.2Z" fill="url(#g358)" stroke="url(#g358)" stroke-width="1.4"/><path d="M421.8,114.2L446.5,101.7L427.5,74.2Z" fill="url(#g359)" stroke="url(#g359)" stroke-width="1.4"/><path d="M421.8,114.2L427.5,74.2L402.7,88.1Z" fill="url(#g360)" stroke="url(#g360)" stroke-width="1.4"/><path d="M402.7,88.1L427.5,74.2L408.4,46.7Z" fill="url(#g361)" stroke="url(#g361)" stroke-width="1.4"/><path d="M402.7,88.1L408.4,46.7L383.7,61.9Z" fill="url(#g362)" stroke="url(#g362)" stroke-width="1.4"/><path d="M383.7,61.9L408.4,46.7L389.4,19.2Z" fill="url(#g363)" stroke="url(#g363)" stroke-width="1.4"/><path d="M383.7,61.9L389.4,19.2L364.6,35.7Z" fill="url(#g364)" stroke="url(#g364)" stroke-width="1.4"/><path d="M656.2,389.8L681,392.6L661.9,365.6Z" fill="url(#g365)" stroke="url(#g365)" stroke-width="1.4"/><path d="M656.2,389.8L661.9,365.6L637.2,364.2Z" fill="url(#g366)" stroke="url(#g366)" stroke-width="1.4"/><path d="M637.2,364.2L661.9,365.6L642.9,338.8Z" fill="url(#g367)" stroke="url(#g367)" stroke-width="1.4"/><path d="M637.2,364.2L642.9,338.8L618.1,338.7Z" fill="url(#g368)" stroke="url(#g368)" stroke-width="1.4"/><path d="M618.1,338.7L642.9,338.8L623.8,311.9Z" fill="url(#g369)" stroke="url(#g369)" stroke-width="1.4"/><path d="M618.1,338.7L623.8,311.9L599.1,313.2Z" fill="url(#g370)" stroke="url(#g370)" stroke-width="1.4"/><path d="M599.1,313.2L623.8,311.9L604.7,284.9Z" fill="url(#g371)" stroke="url(#g371)" stroke-width="1.4"/><path d="M599.1,313.2L604.7,284.9L580,287.6Z" fill="url(#g372)" stroke="url(#g372)" stroke-width="1.4"/><path d="M580,287.6L604.7,284.9L585.7,257.7Z" fill="url(#g373)" stroke="url(#g373)" stroke-width="1.4"/><path d="M580,287.6L585.7,257.7L560.9,261.8Z" fill="url(#g374)" stroke="url(#g374)" stroke-width="1.4"/><path d="M560.9,261.8L585.7,257.7L566.6,230.3Z" fill="url(#g375)" stroke="url(#g375)" stroke-width="1.4"/><path d="M560.9,261.8L566.6,230.3L541.9,235.8Z" fill="url(#g376)" stroke="url(#g376)" stroke-width="1.4"/><path d="M541.9,235.8L566.6,230.3L547.5,202.6Z" fill="url(#g377)" stroke="url(#g377)" stroke-width="1.4"/><path d="M541.9,235.8L547.5,202.6L522.8,209.5Z" fill="url(#g378)" stroke="url(#g378)" stroke-width="1.4"/><path d="M522.8,209.5L547.5,202.6L528.5,174.7Z" fill="url(#g379)" stroke="url(#g379)" stroke-width="1.4"/><path d="M522.8,209.5L528.5,174.7L503.7,183Z" fill="url(#g380)" stroke="url(#g380)" stroke-width="1.4"/><path d="M503.7,183L528.5,174.7L509.4,146.4Z" fill="url(#g381)" stroke="url(#g381)" stroke-width="1.4"/><path d="M503.7,183L509.4,146.4L484.7,156.1Z" fill="url(#g382)" stroke="url(#g382)" stroke-width="1.4"/><path d="M484.7,156.1L509.4,146.4L490.4,117.9Z" fill="url(#g383)" stroke="url(#g383)" stroke-width="1.4"/><path d="M484.7,156.1L490.4,117.9L465.6,129Z" fill="url(#g384)" stroke="url(#g384)" stroke-width="1.4"/><path d="M465.6,129L490.4,117.9L471.3,89.2Z" fill="url(#g385)" stroke="url(#g385)" stroke-width="1.4"/><path d="M465.6,129L471.3,89.2L446.5,101.7Z" fill="url(#g386)" stroke="url(#g386)" stroke-width="1.4"/><path d="M446.5,101.7L471.3,89.2L452.2,60.4Z" fill="url(#g387)" stroke="url(#g387)" stroke-width="1.4"/><path d="M446.5,101.7L452.2,60.4L427.5,74.2Z" fill="url(#g388)" stroke="url(#g388)" stroke-width="1.4"/><path d="M427.5,74.2L452.2,60.4L433.2,31.5Z" fill="url(#g389)" stroke="url(#g389)" stroke-width="1.4"/><path d="M427.5,74.2L433.2,31.5L408.4,46.7Z" fill="url(#g390)" stroke="url(#g390)" stroke-width="1.4"/><path d="M408.4,46.7L433.2,31.5L414.1,2.7Z" fill="url(#g391)" stroke="url(#g391)" stroke-width="1.4"/><path d="M408.4,46.7L414.1,2.7L389.4,19.2Z" fill="url(#g392)" stroke="url(#g392)" stroke-width="1.4"/></g>
<circle cx="407.3" cy="365" r="5.6" fill="#222"/>
<path d="M139.6,183.2L273.1,278.5L406.7,364.5M187.2,168.2L311.1,268.2L435.1,358.9M232.4,152.7L347.8,258.3L463.1,355.4M293.3,155.5L384.6,248.3L476,335.5M343.1,150.3L421.1,238.4L499.1,321.3M389.3,145L457.3,228.6L525.4,305.9M434.2,138.7L493.8,218.7L553.4,293.3M479,133.8L530.2,208.8L581.5,278.5" stroke="#222" stroke-width="8.8" stroke-linecap="round" stroke-linejoin="round" fill="none"/>
<path d="M67.6,364.4L334.5,486.5L681,392.6" stroke="#5a5a5a" stroke-width="1.3" fill="none"/>
<path d="M307.8,474.3L298.6,476.8M254.4,449.9L245.3,452.4M201.1,425.4L191.9,427.9M147.7,401L138.5,403.5M94.3,376.6L85.1,379.1M334.5,486.5L343.1,490.5M412.4,465.4L421,469.4M490.2,444.3L498.9,448.2M568.1,423.2L576.7,427.1M646,402.1L654.6,406M67.6,343.5L59,339.6M67.6,290.3L59,286.3M67.6,237L59,233M67.6,183.7L59,179.8M67.6,130.5L59,126.5" stroke="#5a5a5a" stroke-width="1" fill="none"/>
<g class="t" font-size="22">
<text x="14.3" y="69" font-size="23">×</text><text x="31" y="66.8">10</text><text x="53.2" y="56.3" font-size="17.5">5</text>
<text x="51" y="131" text-anchor="end">2</text>
<text x="51" y="185.5" text-anchor="end">1</text>
<text x="51" y="238.5" text-anchor="end">0</text>
<text x="51" y="292" text-anchor="end">-1</text>
<text x="51" y="346" text-anchor="end">-2</text>
<text x="43.5" y="403">200</text>
<text x="98.5" y="427">100</text>
<text x="172.5" y="451.5">0</text>
<text x="196" y="476">-100</text>
<text x="249.5" y="499">-200</text>
<text x="349.5" y="515.5">0</text>
<text x="429" y="494">10</text>
<text x="505" y="473">20</text>
<text x="583" y="453">30</text>
<text x="659.5" y="432">40</text>
<text x="58.5" y="516.3" font-size="25.2">Torque (Nm)</text>
<text x="481" y="522.3" font-size="25">velocity (m/s)</text>
<text transform="translate(22,281.5) rotate(-90)" font-size="24.2">Power (W)</text>
</g>
<rect x="203" y="379" width="333" height="52" fill="#fff"/>
<defs><linearGradient id="lg" x1="0" y1="0" x2="0" y2="1"><stop offset="0" stop-color="#b00000"/><stop offset=".125" stop-color="#ff0000"/><stop offset=".375" stop-color="#ffff00"/><stop offset=".625" stop-color="#00ffff"/><stop offset=".875" stop-color="#0000ff"/><stop offset="1" stop-color="#000080"/></linearGradient></defs>
<rect x="210" y="381.5" width="57" height="19" fill="url(#lg)"/>
<circle cx="237.7" cy="415.3" r="5" fill="#222"/>
<g class="t" font-size="20.6" stroke="#262626" stroke-width="0.3" transform="translate(270,0) scale(1.1,1) translate(-270,0)">
<text x="270" y="395.2">Fitted surface</text>
<text x="269.5" y="420.8">Original data sets <tspan font-style="italic" dx="3">P</tspan><tspan font-size="12" dy="3.5" stroke="none">i</tspan><tspan dy="-3.5" dx="1">(</tspan><tspan font-style="italic">v</tspan><tspan font-size="12" dy="3.5" stroke="none">i</tspan><tspan dy="-3.5">,</tspan><tspan font-style="italic" dx="4">T</tspan><tspan font-size="12" dy="3.5" stroke="none">m,i</tspan><tspan dy="-3.5" dx="2">)</tspan></text>
</g>

</g></svg></div></body></html>
